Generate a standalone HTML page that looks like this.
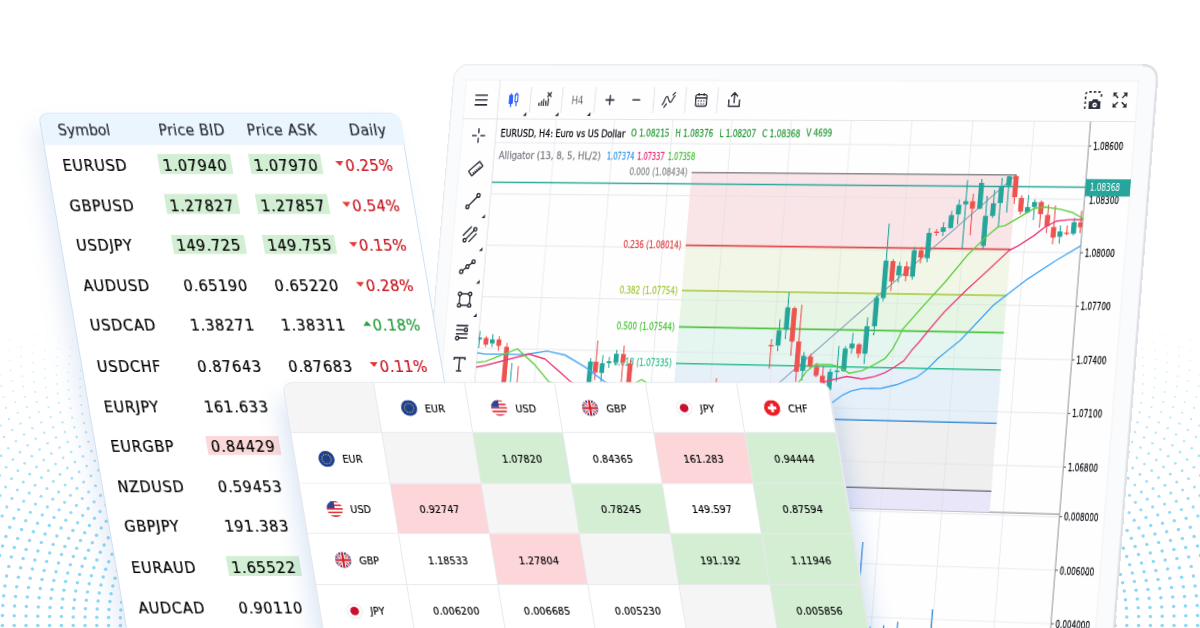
<!DOCTYPE html>
<html><head><meta charset="utf-8"><style>
html,body{margin:0;padding:0}
body{width:1200px;height:628px;overflow:hidden;position:relative;background:#ffffff;font-family:"DejaVu Sans","Liberation Sans",sans-serif}
#chart{position:absolute;left:0;top:0;width:800px;height:660px;transform-origin:0 0;transform:matrix3d(0.815140779,-0.00324956915,0,-5.70492055e-05,-0.0856120913,0.953439311,0,-9.45612213e-06,0,0,1,0,454.377963,63.832888,0,1)}
#tbl{position:absolute;left:38.4px;top:113px;width:360.6px;height:560px;transform-origin:0 0;transform:skewX(9.7deg);background:#fff;border:1px solid #cfe1f2;border-radius:9px 9px 0 0;box-sizing:border-box;box-shadow:-10px 12px 22px -2px rgba(80,130,200,0.15)}
#tbl .th{position:absolute;top:6.5px;font-size:15.6px;font-stretch:condensed;color:#23272e;white-space:nowrap;letter-spacing:0.35px;-webkit-text-stroke:0.15px #23272e}
#tbl .td{position:absolute;font-size:16px;font-stretch:condensed;color:#000;white-space:nowrap;line-height:18px;letter-spacing:0.7px;-webkit-text-stroke:0.2px #000}
#tbl .bx{position:absolute;width:72.3px;height:19.5px}
#mtx{position:absolute;left:283.1px;top:382.5px;width:545px;height:320px;transform-origin:0 0;transform:skewX(9.369deg);background:#fff;border-radius:9px 9px 0 0;overflow:hidden;box-shadow:-12px 14px 22px -4px rgba(70,125,205,0.19), 12px 14px 20px -4px rgba(70,125,205,0.18);outline:1px solid #e6e7ea}
#mtx .mc{position:absolute;box-sizing:border-box;border-right:1px solid #e8e9ec;border-bottom:1px solid #e8e9ec;display:flex;align-items:center;justify-content:center;font-size:10.6px;font-stretch:condensed;color:#000;-webkit-text-stroke:0.15px #000;letter-spacing:0.1px;padding-top:1.5px}
#mtx .fl{display:inline-block;width:16px;height:16px;margin-right:8px}
#mtx .fl svg{display:block}
</style></head><body>
<svg width="1200" height="628" style="position:absolute;left:0;top:0" fill="#8fd9f7"><circle cx="2.4" cy="625.5" r="1.75" fill-opacity="1.00"/><circle cx="14.2" cy="625.5" r="1.75" fill-opacity="1.00"/><circle cx="26.0" cy="625.5" r="1.75" fill-opacity="1.00"/><circle cx="37.8" cy="625.5" r="1.75" fill-opacity="1.00"/><circle cx="49.6" cy="625.5" r="1.75" fill-opacity="1.00"/><circle cx="61.4" cy="625.5" r="1.75" fill-opacity="1.00"/><circle cx="73.2" cy="625.5" r="1.75" fill-opacity="1.00"/><circle cx="85.0" cy="625.5" r="1.75" fill-opacity="1.00"/><circle cx="96.8" cy="625.5" r="1.75" fill-opacity="1.00"/><circle cx="108.6" cy="625.5" r="1.75" fill-opacity="1.00"/><circle cx="120.4" cy="625.5" r="1.75" fill-opacity="1.00"/><circle cx="2.4" cy="615.5" r="1.75" fill-opacity="1.00"/><circle cx="14.2" cy="615.8" r="1.75" fill-opacity="1.00"/><circle cx="26.0" cy="616.0" r="1.75" fill-opacity="1.00"/><circle cx="37.8" cy="616.2" r="1.75" fill-opacity="1.00"/><circle cx="49.6" cy="616.4" r="1.75" fill-opacity="1.00"/><circle cx="61.4" cy="616.6" r="1.75" fill-opacity="1.00"/><circle cx="73.2" cy="616.9" r="1.75" fill-opacity="1.00"/><circle cx="85.0" cy="617.1" r="1.75" fill-opacity="1.00"/><circle cx="96.8" cy="617.3" r="1.75" fill-opacity="1.00"/><circle cx="108.6" cy="617.5" r="1.75" fill-opacity="1.00"/><circle cx="120.4" cy="617.7" r="1.75" fill-opacity="1.00"/><circle cx="2.8" cy="605.6" r="1.75" fill-opacity="1.00"/><circle cx="14.6" cy="606.0" r="1.75" fill-opacity="1.00"/><circle cx="26.4" cy="606.5" r="1.75" fill-opacity="1.00"/><circle cx="38.2" cy="606.9" r="1.75" fill-opacity="1.00"/><circle cx="50.0" cy="607.4" r="1.75" fill-opacity="1.00"/><circle cx="61.8" cy="607.8" r="1.75" fill-opacity="1.00"/><circle cx="73.6" cy="608.2" r="1.75" fill-opacity="1.00"/><circle cx="85.4" cy="608.7" r="1.75" fill-opacity="1.00"/><circle cx="97.2" cy="609.1" r="1.75" fill-opacity="1.00"/><circle cx="109.0" cy="609.6" r="1.75" fill-opacity="1.00"/><circle cx="120.8" cy="610.0" r="1.75" fill-opacity="1.00"/><circle cx="3.7" cy="595.7" r="1.75" fill-opacity="1.00"/><circle cx="15.5" cy="596.4" r="1.75" fill-opacity="1.00"/><circle cx="27.3" cy="597.0" r="1.75" fill-opacity="1.00"/><circle cx="39.1" cy="597.7" r="1.75" fill-opacity="1.00"/><circle cx="50.9" cy="598.3" r="1.75" fill-opacity="1.00"/><circle cx="62.7" cy="599.0" r="1.75" fill-opacity="1.00"/><circle cx="74.5" cy="599.7" r="1.75" fill-opacity="1.00"/><circle cx="86.3" cy="600.3" r="1.75" fill-opacity="1.00"/><circle cx="98.1" cy="601.0" r="1.75" fill-opacity="1.00"/><circle cx="109.9" cy="601.6" r="1.75" fill-opacity="1.00"/><circle cx="121.7" cy="602.3" r="1.75" fill-opacity="1.00"/><circle cx="4.9" cy="585.9" r="1.75" fill-opacity="1.00"/><circle cx="16.7" cy="586.7" r="1.75" fill-opacity="1.00"/><circle cx="28.5" cy="587.6" r="1.75" fill-opacity="1.00"/><circle cx="40.3" cy="588.5" r="1.75" fill-opacity="1.00"/><circle cx="52.1" cy="589.4" r="1.75" fill-opacity="1.00"/><circle cx="63.9" cy="590.3" r="1.75" fill-opacity="1.00"/><circle cx="75.7" cy="591.1" r="1.75" fill-opacity="1.00"/><circle cx="87.5" cy="592.0" r="1.75" fill-opacity="1.00"/><circle cx="99.3" cy="592.9" r="1.75" fill-opacity="1.00"/><circle cx="111.1" cy="593.8" r="1.75" fill-opacity="1.00"/><circle cx="122.9" cy="594.6" r="1.75" fill-opacity="1.00"/><circle cx="6.6" cy="576.1" r="1.75" fill-opacity="1.00"/><circle cx="18.4" cy="577.2" r="1.75" fill-opacity="1.00"/><circle cx="30.2" cy="578.3" r="1.75" fill-opacity="1.00"/><circle cx="42.0" cy="579.4" r="1.75" fill-opacity="1.00"/><circle cx="53.8" cy="580.5" r="1.75" fill-opacity="1.00"/><circle cx="65.6" cy="581.6" r="1.75" fill-opacity="1.00"/><circle cx="77.4" cy="582.7" r="1.75" fill-opacity="1.00"/><circle cx="89.2" cy="583.8" r="1.75" fill-opacity="1.00"/><circle cx="101.0" cy="584.9" r="1.75" fill-opacity="1.00"/><circle cx="112.8" cy="586.0" r="1.75" fill-opacity="1.00"/><circle cx="8.8" cy="566.5" r="1.75" fill-opacity="1.00"/><circle cx="20.6" cy="567.8" r="1.75" fill-opacity="1.00"/><circle cx="32.4" cy="569.1" r="1.75" fill-opacity="1.00"/><circle cx="44.2" cy="570.4" r="1.75" fill-opacity="1.00"/><circle cx="56.0" cy="571.7" r="1.75" fill-opacity="1.00"/><circle cx="67.8" cy="573.1" r="1.75" fill-opacity="1.00"/><circle cx="79.6" cy="574.4" r="1.75" fill-opacity="1.00"/><circle cx="91.4" cy="575.7" r="1.75" fill-opacity="1.00"/><circle cx="103.2" cy="577.0" r="1.75" fill-opacity="1.00"/><circle cx="115.0" cy="578.3" r="1.75" fill-opacity="1.00"/><circle cx="-0.5" cy="555.4" r="1.75" fill-opacity="1.00"/><circle cx="11.3" cy="557.0" r="1.75" fill-opacity="1.00"/><circle cx="23.1" cy="558.5" r="1.75" fill-opacity="1.00"/><circle cx="34.9" cy="560.0" r="1.75" fill-opacity="1.00"/><circle cx="46.7" cy="561.6" r="1.75" fill-opacity="1.00"/><circle cx="58.5" cy="563.1" r="1.75" fill-opacity="1.00"/><circle cx="70.3" cy="564.7" r="1.75" fill-opacity="1.00"/><circle cx="82.1" cy="566.2" r="1.75" fill-opacity="1.00"/><circle cx="93.9" cy="567.7" r="1.75" fill-opacity="1.00"/><circle cx="105.7" cy="569.3" r="1.75" fill-opacity="1.00"/><circle cx="117.5" cy="570.8" r="1.75" fill-opacity="1.00"/><circle cx="2.5" cy="545.9" r="1.75" fill-opacity="1.00"/><circle cx="14.3" cy="547.6" r="1.75" fill-opacity="1.00"/><circle cx="26.1" cy="549.4" r="1.75" fill-opacity="1.00"/><circle cx="37.9" cy="551.1" r="1.75" fill-opacity="1.00"/><circle cx="49.7" cy="552.9" r="1.75" fill-opacity="1.00"/><circle cx="61.5" cy="554.6" r="1.75" fill-opacity="1.00"/><circle cx="73.3" cy="556.4" r="1.75" fill-opacity="1.00"/><circle cx="85.1" cy="558.2" r="1.75" fill-opacity="1.00"/><circle cx="96.9" cy="559.9" r="1.75" fill-opacity="1.00"/><circle cx="108.7" cy="561.7" r="1.75" fill-opacity="1.00"/><circle cx="5.9" cy="536.5" r="1.75" fill-opacity="1.00"/><circle cx="17.7" cy="538.5" r="1.75" fill-opacity="1.00"/><circle cx="29.5" cy="540.4" r="1.75" fill-opacity="1.00"/><circle cx="41.3" cy="542.4" r="1.75" fill-opacity="1.00"/><circle cx="53.1" cy="544.4" r="1.75" fill-opacity="1.00"/><circle cx="64.9" cy="546.4" r="1.75" fill-opacity="1.00"/><circle cx="76.7" cy="548.3" r="1.75" fill-opacity="1.00"/><circle cx="88.5" cy="550.3" r="1.75" fill-opacity="1.00"/><circle cx="100.3" cy="552.3" r="1.75" fill-opacity="1.00"/><circle cx="112.1" cy="554.3" r="1.75" fill-opacity="1.00"/><circle cx="9.7" cy="527.3" r="1.74" fill-opacity="0.99"/><circle cx="21.5" cy="529.5" r="1.75" fill-opacity="1.00"/><circle cx="33.3" cy="531.7" r="1.75" fill-opacity="1.00"/><circle cx="45.1" cy="533.9" r="1.75" fill-opacity="1.00"/><circle cx="56.9" cy="536.1" r="1.75" fill-opacity="1.00"/><circle cx="68.7" cy="538.3" r="1.75" fill-opacity="1.00"/><circle cx="80.5" cy="540.5" r="1.75" fill-opacity="1.00"/><circle cx="92.3" cy="542.7" r="1.75" fill-opacity="1.00"/><circle cx="104.1" cy="544.9" r="1.75" fill-opacity="1.00"/><circle cx="115.9" cy="547.1" r="1.75" fill-opacity="1.00"/><circle cx="2.1" cy="515.9" r="1.68" fill-opacity="0.94"/><circle cx="13.9" cy="518.3" r="1.69" fill-opacity="0.95"/><circle cx="25.7" cy="520.8" r="1.70" fill-opacity="0.96"/><circle cx="37.5" cy="523.2" r="1.71" fill-opacity="0.97"/><circle cx="49.3" cy="525.6" r="1.73" fill-opacity="0.98"/><circle cx="61.1" cy="528.0" r="1.74" fill-opacity="0.99"/><circle cx="72.9" cy="530.4" r="1.75" fill-opacity="1.00"/><circle cx="84.7" cy="532.8" r="1.75" fill-opacity="1.00"/><circle cx="96.5" cy="535.2" r="1.75" fill-opacity="1.00"/><circle cx="108.3" cy="537.7" r="1.75" fill-opacity="1.00"/><circle cx="6.8" cy="507.0" r="1.63" fill-opacity="0.91"/><circle cx="18.6" cy="509.6" r="1.64" fill-opacity="0.92"/><circle cx="30.4" cy="512.3" r="1.66" fill-opacity="0.93"/><circle cx="42.2" cy="514.9" r="1.67" fill-opacity="0.94"/><circle cx="54.0" cy="517.5" r="1.68" fill-opacity="0.95"/><circle cx="65.8" cy="520.2" r="1.70" fill-opacity="0.96"/><circle cx="77.6" cy="522.8" r="1.71" fill-opacity="0.97"/><circle cx="89.4" cy="525.5" r="1.73" fill-opacity="0.98"/><circle cx="101.2" cy="528.1" r="1.74" fill-opacity="0.99"/><circle cx="113.0" cy="530.7" r="1.75" fill-opacity="1.00"/><circle cx="0.1" cy="495.5" r="1.57" fill-opacity="0.86"/><circle cx="11.9" cy="498.4" r="1.58" fill-opacity="0.87"/><circle cx="23.7" cy="501.2" r="1.60" fill-opacity="0.88"/><circle cx="35.5" cy="504.1" r="1.61" fill-opacity="0.90"/><circle cx="47.3" cy="506.9" r="1.63" fill-opacity="0.91"/><circle cx="59.1" cy="509.8" r="1.64" fill-opacity="0.92"/><circle cx="70.9" cy="512.6" r="1.66" fill-opacity="0.93"/><circle cx="82.7" cy="515.5" r="1.67" fill-opacity="0.94"/><circle cx="94.5" cy="518.3" r="1.69" fill-opacity="0.95"/><circle cx="106.3" cy="521.2" r="1.70" fill-opacity="0.96"/><circle cx="5.6" cy="487.0" r="1.52" fill-opacity="0.83"/><circle cx="17.4" cy="490.0" r="1.54" fill-opacity="0.84"/><circle cx="29.2" cy="493.1" r="1.56" fill-opacity="0.85"/><circle cx="41.0" cy="496.2" r="1.57" fill-opacity="0.86"/><circle cx="52.8" cy="499.2" r="1.59" fill-opacity="0.88"/><circle cx="64.6" cy="502.3" r="1.60" fill-opacity="0.89"/><circle cx="76.4" cy="505.4" r="1.62" fill-opacity="0.90"/><circle cx="88.2" cy="508.5" r="1.64" fill-opacity="0.91"/><circle cx="100.0" cy="511.5" r="1.65" fill-opacity="0.93"/><circle cx="-0.3" cy="475.4" r="1.46" fill-opacity="0.78"/><circle cx="11.5" cy="478.7" r="1.48" fill-opacity="0.79"/><circle cx="23.3" cy="482.0" r="1.50" fill-opacity="0.81"/><circle cx="35.1" cy="485.3" r="1.52" fill-opacity="0.82"/><circle cx="46.9" cy="488.6" r="1.53" fill-opacity="0.83"/><circle cx="58.7" cy="491.9" r="1.55" fill-opacity="0.85"/><circle cx="70.5" cy="495.2" r="1.57" fill-opacity="0.86"/><circle cx="82.3" cy="498.5" r="1.58" fill-opacity="0.87"/><circle cx="94.1" cy="501.8" r="1.60" fill-opacity="0.89"/><circle cx="105.9" cy="505.1" r="1.62" fill-opacity="0.90"/><circle cx="6.1" cy="467.3" r="1.42" fill-opacity="0.75"/><circle cx="17.9" cy="470.8" r="1.44" fill-opacity="0.76"/><circle cx="29.7" cy="474.3" r="1.46" fill-opacity="0.78"/><circle cx="41.5" cy="477.8" r="1.48" fill-opacity="0.79"/><circle cx="53.3" cy="481.4" r="1.49" fill-opacity="0.81"/><circle cx="65.1" cy="484.9" r="1.51" fill-opacity="0.82"/><circle cx="76.9" cy="488.4" r="1.53" fill-opacity="0.83"/><circle cx="88.7" cy="491.9" r="1.55" fill-opacity="0.85"/><circle cx="100.5" cy="495.4" r="1.57" fill-opacity="0.86"/><circle cx="1.1" cy="455.8" r="1.36" fill-opacity="0.70"/><circle cx="12.9" cy="459.6" r="1.38" fill-opacity="0.72"/><circle cx="24.7" cy="463.3" r="1.40" fill-opacity="0.73"/><circle cx="36.5" cy="467.0" r="1.42" fill-opacity="0.75"/><circle cx="48.3" cy="470.8" r="1.44" fill-opacity="0.76"/><circle cx="60.1" cy="474.5" r="1.46" fill-opacity="0.78"/><circle cx="71.9" cy="478.2" r="1.48" fill-opacity="0.79"/><circle cx="83.7" cy="482.0" r="1.50" fill-opacity="0.81"/><circle cx="95.5" cy="485.7" r="1.52" fill-opacity="0.82"/><circle cx="8.3" cy="448.3" r="1.32" fill-opacity="0.67"/><circle cx="20.1" cy="452.2" r="1.34" fill-opacity="0.69"/><circle cx="31.9" cy="456.2" r="1.36" fill-opacity="0.70"/><circle cx="43.7" cy="460.1" r="1.38" fill-opacity="0.72"/><circle cx="55.5" cy="464.1" r="1.40" fill-opacity="0.74"/><circle cx="67.3" cy="468.0" r="1.42" fill-opacity="0.75"/><circle cx="79.1" cy="472.0" r="1.45" fill-opacity="0.77"/><circle cx="90.9" cy="475.9" r="1.47" fill-opacity="0.78"/><circle cx="102.7" cy="479.9" r="1.49" fill-opacity="0.80"/><circle cx="4.1" cy="437.0" r="1.26" fill-opacity="0.63"/><circle cx="15.9" cy="441.1" r="1.28" fill-opacity="0.64"/><circle cx="27.7" cy="445.3" r="1.31" fill-opacity="0.66"/><circle cx="39.5" cy="449.5" r="1.33" fill-opacity="0.68"/><circle cx="51.3" cy="453.6" r="1.35" fill-opacity="0.69"/><circle cx="63.1" cy="457.8" r="1.37" fill-opacity="0.71"/><circle cx="74.9" cy="462.0" r="1.39" fill-opacity="0.73"/><circle cx="86.7" cy="466.1" r="1.41" fill-opacity="0.74"/><circle cx="98.5" cy="470.3" r="1.44" fill-opacity="0.76"/><circle cx="0.4" cy="425.6" r="1.20" fill-opacity="0.58"/><circle cx="12.2" cy="430.0" r="1.23" fill-opacity="0.60"/><circle cx="24.0" cy="434.4" r="1.25" fill-opacity="0.62"/><circle cx="35.8" cy="438.8" r="1.27" fill-opacity="0.64"/><circle cx="47.6" cy="443.2" r="1.29" fill-opacity="0.65"/><circle cx="59.4" cy="447.6" r="1.32" fill-opacity="0.67"/><circle cx="71.2" cy="452.0" r="1.34" fill-opacity="0.69"/><circle cx="83.0" cy="456.4" r="1.36" fill-opacity="0.71"/><circle cx="94.8" cy="460.8" r="1.39" fill-opacity="0.72"/><circle cx="8.8" cy="419.0" r="1.17" fill-opacity="0.56"/><circle cx="20.6" cy="423.6" r="1.19" fill-opacity="0.57"/><circle cx="32.4" cy="428.2" r="1.22" fill-opacity="0.59"/><circle cx="44.2" cy="432.8" r="1.24" fill-opacity="0.61"/><circle cx="56.0" cy="437.4" r="1.26" fill-opacity="0.63"/><circle cx="67.8" cy="442.0" r="1.29" fill-opacity="0.65"/><circle cx="79.6" cy="446.6" r="1.31" fill-opacity="0.67"/><circle cx="91.4" cy="451.2" r="1.34" fill-opacity="0.68"/><circle cx="5.9" cy="407.9" r="1.11" fill-opacity="0.51"/><circle cx="17.7" cy="412.8" r="1.13" fill-opacity="0.53"/><circle cx="29.5" cy="417.6" r="1.16" fill-opacity="0.55"/><circle cx="41.3" cy="422.4" r="1.19" fill-opacity="0.57"/><circle cx="53.1" cy="427.2" r="1.21" fill-opacity="0.59"/><circle cx="64.9" cy="432.1" r="1.24" fill-opacity="0.61"/><circle cx="76.7" cy="436.9" r="1.26" fill-opacity="0.63"/><circle cx="88.5" cy="441.7" r="1.29" fill-opacity="0.65"/><circle cx="3.5" cy="397.0" r="1.05" fill-opacity="0.47"/><circle cx="15.3" cy="402.0" r="1.08" fill-opacity="0.49"/><circle cx="27.1" cy="407.1" r="1.10" fill-opacity="0.51"/><circle cx="38.9" cy="412.1" r="1.13" fill-opacity="0.53"/><circle cx="50.7" cy="417.2" r="1.16" fill-opacity="0.55"/><circle cx="62.5" cy="422.2" r="1.18" fill-opacity="0.57"/><circle cx="74.3" cy="427.3" r="1.21" fill-opacity="0.59"/><circle cx="86.1" cy="432.3" r="1.24" fill-opacity="0.61"/><circle cx="1.4" cy="386.1" r="0.99" fill-opacity="0.42"/><circle cx="13.2" cy="391.4" r="1.02" fill-opacity="0.45"/><circle cx="25.0" cy="396.7" r="1.05" fill-opacity="0.47"/><circle cx="36.8" cy="401.9" r="1.08" fill-opacity="0.49"/><circle cx="48.6" cy="407.2" r="1.11" fill-opacity="0.51"/><circle cx="60.4" cy="412.5" r="1.13" fill-opacity="0.53"/><circle cx="72.2" cy="417.7" r="1.16" fill-opacity="0.55"/><circle cx="84.0" cy="423.0" r="1.19" fill-opacity="0.57"/><circle cx="95.8" cy="428.3" r="1.22" fill-opacity="0.59"/><circle cx="-0.2" cy="375.4" r="0.94" fill-opacity="0.38"/><circle cx="11.6" cy="380.9" r="0.97" fill-opacity="0.40"/><circle cx="23.4" cy="386.4" r="1.00" fill-opacity="0.43"/><circle cx="35.2" cy="391.9" r="1.02" fill-opacity="0.45"/><circle cx="47.0" cy="397.4" r="1.05" fill-opacity="0.47"/><circle cx="58.8" cy="402.8" r="1.08" fill-opacity="0.49"/><circle cx="70.6" cy="408.3" r="1.11" fill-opacity="0.51"/><circle cx="82.4" cy="413.8" r="1.14" fill-opacity="0.54"/><circle cx="94.2" cy="419.3" r="1.17" fill-opacity="0.56"/><circle cx="10.4" cy="370.5" r="0.91" fill-opacity="0.36"/><circle cx="22.2" cy="376.2" r="0.94" fill-opacity="0.38"/><circle cx="34.0" cy="381.9" r="0.97" fill-opacity="0.41"/><circle cx="45.8" cy="387.6" r="1.00" fill-opacity="0.43"/><circle cx="57.6" cy="393.4" r="1.03" fill-opacity="0.45"/><circle cx="69.4" cy="399.1" r="1.06" fill-opacity="0.48"/><circle cx="81.2" cy="404.8" r="1.09" fill-opacity="0.50"/><circle cx="9.6" cy="360.3" r="0.86" fill-opacity="0.32"/><circle cx="21.4" cy="366.3" r="0.89" fill-opacity="0.35"/><circle cx="33.2" cy="372.2" r="0.92" fill-opacity="0.37"/><circle cx="45.0" cy="378.1" r="0.95" fill-opacity="0.39"/><circle cx="56.8" cy="384.0" r="0.98" fill-opacity="0.42"/><circle cx="68.6" cy="390.0" r="1.01" fill-opacity="0.44"/><circle cx="80.4" cy="395.9" r="1.05" fill-opacity="0.46"/><circle cx="9.3" cy="350.3" r="0.81" fill-opacity="0.28"/><circle cx="21.1" cy="356.5" r="0.84" fill-opacity="0.31"/><circle cx="32.9" cy="362.6" r="0.87" fill-opacity="0.33"/><circle cx="44.7" cy="368.8" r="0.90" fill-opacity="0.36"/><circle cx="56.5" cy="374.9" r="0.94" fill-opacity="0.38"/><circle cx="68.3" cy="381.1" r="0.97" fill-opacity="0.40"/><circle cx="80.1" cy="387.2" r="1.00" fill-opacity="0.43"/><circle cx="9.3" cy="340.5" r="0.76" fill-opacity="0.24"/><circle cx="21.1" cy="346.9" r="0.79" fill-opacity="0.27"/><circle cx="32.9" cy="353.3" r="0.82" fill-opacity="0.29"/><circle cx="44.7" cy="359.6" r="0.86" fill-opacity="0.32"/><circle cx="56.5" cy="366.0" r="0.89" fill-opacity="0.34"/><circle cx="68.3" cy="372.4" r="0.92" fill-opacity="0.37"/><circle cx="80.1" cy="378.7" r="0.96" fill-opacity="0.39"/><circle cx="9.8" cy="331.0" r="0.71" fill-opacity="0.20"/><circle cx="21.6" cy="337.6" r="0.74" fill-opacity="0.23"/><circle cx="33.4" cy="344.2" r="0.77" fill-opacity="0.26"/><circle cx="45.2" cy="350.7" r="0.81" fill-opacity="0.28"/><circle cx="57.0" cy="357.3" r="0.84" fill-opacity="0.31"/><circle cx="68.8" cy="363.9" r="0.88" fill-opacity="0.34"/><circle cx="80.6" cy="370.5" r="0.91" fill-opacity="0.36"/><circle cx="34.4" cy="335.3" r="0.73" fill-opacity="0.22"/><circle cx="46.2" cy="342.1" r="0.76" fill-opacity="0.25"/><circle cx="58.0" cy="348.9" r="0.80" fill-opacity="0.28"/><circle cx="69.8" cy="355.7" r="0.84" fill-opacity="0.30"/><circle cx="81.6" cy="362.5" r="0.87" fill-opacity="0.33"/><circle cx="47.5" cy="333.8" r="0.72" fill-opacity="0.22"/><circle cx="59.3" cy="340.8" r="0.76" fill-opacity="0.24"/><circle cx="71.1" cy="347.8" r="0.79" fill-opacity="0.27"/><circle cx="82.9" cy="354.8" r="0.83" fill-opacity="0.30"/><circle cx="61.1" cy="333.0" r="0.72" fill-opacity="0.21"/><circle cx="72.9" cy="340.2" r="0.75" fill-opacity="0.24"/><circle cx="1197.6" cy="625.5" r="1.75" fill-opacity="1.00"/><circle cx="1185.8" cy="625.5" r="1.75" fill-opacity="1.00"/><circle cx="1174.0" cy="625.5" r="1.75" fill-opacity="1.00"/><circle cx="1162.2" cy="625.5" r="1.75" fill-opacity="1.00"/><circle cx="1150.4" cy="625.5" r="1.75" fill-opacity="1.00"/><circle cx="1138.6" cy="625.5" r="1.75" fill-opacity="1.00"/><circle cx="1126.8" cy="625.5" r="1.75" fill-opacity="1.00"/><circle cx="1115.0" cy="625.5" r="1.75" fill-opacity="1.00"/><circle cx="1103.2" cy="625.5" r="1.75" fill-opacity="1.00"/><circle cx="1197.6" cy="615.5" r="1.75" fill-opacity="1.00"/><circle cx="1185.8" cy="615.8" r="1.75" fill-opacity="1.00"/><circle cx="1174.0" cy="616.0" r="1.75" fill-opacity="1.00"/><circle cx="1162.2" cy="616.2" r="1.75" fill-opacity="1.00"/><circle cx="1150.4" cy="616.4" r="1.75" fill-opacity="1.00"/><circle cx="1138.6" cy="616.6" r="1.75" fill-opacity="1.00"/><circle cx="1126.8" cy="616.9" r="1.75" fill-opacity="1.00"/><circle cx="1115.0" cy="617.1" r="1.75" fill-opacity="1.00"/><circle cx="1103.2" cy="617.3" r="1.75" fill-opacity="1.00"/><circle cx="1197.2" cy="605.6" r="1.75" fill-opacity="1.00"/><circle cx="1185.4" cy="606.0" r="1.75" fill-opacity="1.00"/><circle cx="1173.6" cy="606.5" r="1.75" fill-opacity="1.00"/><circle cx="1161.8" cy="606.9" r="1.75" fill-opacity="1.00"/><circle cx="1150.0" cy="607.4" r="1.75" fill-opacity="1.00"/><circle cx="1138.2" cy="607.8" r="1.75" fill-opacity="1.00"/><circle cx="1126.4" cy="608.2" r="1.75" fill-opacity="1.00"/><circle cx="1114.6" cy="608.7" r="1.75" fill-opacity="1.00"/><circle cx="1102.8" cy="609.1" r="1.75" fill-opacity="1.00"/><circle cx="1196.3" cy="595.7" r="1.75" fill-opacity="1.00"/><circle cx="1184.5" cy="596.4" r="1.75" fill-opacity="1.00"/><circle cx="1172.7" cy="597.0" r="1.75" fill-opacity="1.00"/><circle cx="1160.9" cy="597.7" r="1.75" fill-opacity="1.00"/><circle cx="1149.1" cy="598.3" r="1.75" fill-opacity="1.00"/><circle cx="1137.3" cy="599.0" r="1.75" fill-opacity="1.00"/><circle cx="1125.5" cy="599.7" r="1.75" fill-opacity="1.00"/><circle cx="1113.7" cy="600.3" r="1.75" fill-opacity="1.00"/><circle cx="1101.9" cy="601.0" r="1.75" fill-opacity="1.00"/><circle cx="1195.1" cy="585.9" r="1.75" fill-opacity="1.00"/><circle cx="1183.3" cy="586.7" r="1.75" fill-opacity="1.00"/><circle cx="1171.5" cy="587.6" r="1.75" fill-opacity="1.00"/><circle cx="1159.7" cy="588.5" r="1.75" fill-opacity="1.00"/><circle cx="1147.9" cy="589.4" r="1.75" fill-opacity="1.00"/><circle cx="1136.1" cy="590.3" r="1.75" fill-opacity="1.00"/><circle cx="1124.3" cy="591.1" r="1.75" fill-opacity="1.00"/><circle cx="1112.5" cy="592.0" r="1.75" fill-opacity="1.00"/><circle cx="1100.7" cy="592.9" r="1.75" fill-opacity="1.00"/><circle cx="1193.4" cy="576.1" r="1.75" fill-opacity="1.00"/><circle cx="1181.6" cy="577.2" r="1.75" fill-opacity="1.00"/><circle cx="1169.8" cy="578.3" r="1.75" fill-opacity="1.00"/><circle cx="1158.0" cy="579.4" r="1.75" fill-opacity="1.00"/><circle cx="1146.2" cy="580.5" r="1.75" fill-opacity="1.00"/><circle cx="1134.4" cy="581.6" r="1.75" fill-opacity="1.00"/><circle cx="1122.6" cy="582.7" r="1.75" fill-opacity="1.00"/><circle cx="1110.8" cy="583.8" r="1.75" fill-opacity="1.00"/><circle cx="1191.2" cy="566.5" r="1.75" fill-opacity="1.00"/><circle cx="1179.4" cy="567.8" r="1.75" fill-opacity="1.00"/><circle cx="1167.6" cy="569.1" r="1.75" fill-opacity="1.00"/><circle cx="1155.8" cy="570.4" r="1.75" fill-opacity="1.00"/><circle cx="1144.0" cy="571.7" r="1.75" fill-opacity="1.00"/><circle cx="1132.2" cy="573.1" r="1.75" fill-opacity="1.00"/><circle cx="1120.4" cy="574.4" r="1.75" fill-opacity="1.00"/><circle cx="1108.6" cy="575.7" r="1.75" fill-opacity="1.00"/><circle cx="1200.5" cy="555.4" r="1.75" fill-opacity="1.00"/><circle cx="1188.7" cy="557.0" r="1.75" fill-opacity="1.00"/><circle cx="1176.9" cy="558.5" r="1.75" fill-opacity="1.00"/><circle cx="1165.1" cy="560.0" r="1.75" fill-opacity="1.00"/><circle cx="1153.3" cy="561.6" r="1.75" fill-opacity="1.00"/><circle cx="1141.5" cy="563.1" r="1.75" fill-opacity="1.00"/><circle cx="1129.7" cy="564.7" r="1.75" fill-opacity="1.00"/><circle cx="1117.9" cy="566.2" r="1.75" fill-opacity="1.00"/><circle cx="1106.1" cy="567.7" r="1.75" fill-opacity="1.00"/><circle cx="1197.5" cy="545.9" r="1.75" fill-opacity="1.00"/><circle cx="1185.7" cy="547.6" r="1.75" fill-opacity="1.00"/><circle cx="1173.9" cy="549.4" r="1.75" fill-opacity="1.00"/><circle cx="1162.1" cy="551.1" r="1.75" fill-opacity="1.00"/><circle cx="1150.3" cy="552.9" r="1.75" fill-opacity="1.00"/><circle cx="1138.5" cy="554.6" r="1.75" fill-opacity="1.00"/><circle cx="1126.7" cy="556.4" r="1.75" fill-opacity="1.00"/><circle cx="1114.9" cy="558.2" r="1.75" fill-opacity="1.00"/><circle cx="1103.1" cy="559.9" r="1.75" fill-opacity="1.00"/><circle cx="1194.1" cy="536.5" r="1.75" fill-opacity="1.00"/><circle cx="1182.3" cy="538.5" r="1.75" fill-opacity="1.00"/><circle cx="1170.5" cy="540.4" r="1.75" fill-opacity="1.00"/><circle cx="1158.7" cy="542.4" r="1.75" fill-opacity="1.00"/><circle cx="1146.9" cy="544.4" r="1.75" fill-opacity="1.00"/><circle cx="1135.1" cy="546.4" r="1.75" fill-opacity="1.00"/><circle cx="1123.3" cy="548.3" r="1.75" fill-opacity="1.00"/><circle cx="1111.5" cy="550.3" r="1.75" fill-opacity="1.00"/><circle cx="1190.3" cy="527.3" r="1.74" fill-opacity="0.99"/><circle cx="1178.5" cy="529.5" r="1.75" fill-opacity="1.00"/><circle cx="1166.7" cy="531.7" r="1.75" fill-opacity="1.00"/><circle cx="1154.9" cy="533.9" r="1.75" fill-opacity="1.00"/><circle cx="1143.1" cy="536.1" r="1.75" fill-opacity="1.00"/><circle cx="1131.3" cy="538.3" r="1.75" fill-opacity="1.00"/><circle cx="1119.5" cy="540.5" r="1.75" fill-opacity="1.00"/><circle cx="1107.7" cy="542.7" r="1.75" fill-opacity="1.00"/><circle cx="1197.9" cy="515.9" r="1.68" fill-opacity="0.94"/><circle cx="1186.1" cy="518.3" r="1.69" fill-opacity="0.95"/><circle cx="1174.3" cy="520.8" r="1.70" fill-opacity="0.96"/><circle cx="1162.5" cy="523.2" r="1.71" fill-opacity="0.97"/><circle cx="1150.7" cy="525.6" r="1.73" fill-opacity="0.98"/><circle cx="1138.9" cy="528.0" r="1.74" fill-opacity="0.99"/><circle cx="1127.1" cy="530.4" r="1.75" fill-opacity="1.00"/><circle cx="1115.3" cy="532.8" r="1.75" fill-opacity="1.00"/><circle cx="1103.5" cy="535.2" r="1.75" fill-opacity="1.00"/><circle cx="1193.2" cy="507.0" r="1.63" fill-opacity="0.91"/><circle cx="1181.4" cy="509.6" r="1.64" fill-opacity="0.92"/><circle cx="1169.6" cy="512.3" r="1.66" fill-opacity="0.93"/><circle cx="1157.8" cy="514.9" r="1.67" fill-opacity="0.94"/><circle cx="1146.0" cy="517.5" r="1.68" fill-opacity="0.95"/><circle cx="1134.2" cy="520.2" r="1.70" fill-opacity="0.96"/><circle cx="1122.4" cy="522.8" r="1.71" fill-opacity="0.97"/><circle cx="1110.6" cy="525.5" r="1.73" fill-opacity="0.98"/><circle cx="1199.9" cy="495.5" r="1.57" fill-opacity="0.86"/><circle cx="1188.1" cy="498.4" r="1.58" fill-opacity="0.87"/><circle cx="1176.3" cy="501.2" r="1.60" fill-opacity="0.88"/><circle cx="1164.5" cy="504.1" r="1.61" fill-opacity="0.90"/><circle cx="1152.7" cy="506.9" r="1.63" fill-opacity="0.91"/><circle cx="1140.9" cy="509.8" r="1.64" fill-opacity="0.92"/><circle cx="1129.1" cy="512.6" r="1.66" fill-opacity="0.93"/><circle cx="1117.3" cy="515.5" r="1.67" fill-opacity="0.94"/><circle cx="1105.5" cy="518.3" r="1.69" fill-opacity="0.95"/><circle cx="1194.4" cy="487.0" r="1.52" fill-opacity="0.83"/><circle cx="1182.6" cy="490.0" r="1.54" fill-opacity="0.84"/><circle cx="1170.8" cy="493.1" r="1.56" fill-opacity="0.85"/><circle cx="1159.0" cy="496.2" r="1.57" fill-opacity="0.86"/><circle cx="1147.2" cy="499.2" r="1.59" fill-opacity="0.88"/><circle cx="1135.4" cy="502.3" r="1.60" fill-opacity="0.89"/><circle cx="1123.6" cy="505.4" r="1.62" fill-opacity="0.90"/><circle cx="1111.8" cy="508.5" r="1.64" fill-opacity="0.91"/><circle cx="1100.0" cy="511.5" r="1.65" fill-opacity="0.93"/><circle cx="1200.3" cy="475.4" r="1.46" fill-opacity="0.78"/><circle cx="1188.5" cy="478.7" r="1.48" fill-opacity="0.79"/><circle cx="1176.7" cy="482.0" r="1.50" fill-opacity="0.81"/><circle cx="1164.9" cy="485.3" r="1.52" fill-opacity="0.82"/><circle cx="1153.1" cy="488.6" r="1.53" fill-opacity="0.83"/><circle cx="1141.3" cy="491.9" r="1.55" fill-opacity="0.85"/><circle cx="1129.5" cy="495.2" r="1.57" fill-opacity="0.86"/><circle cx="1117.7" cy="498.5" r="1.58" fill-opacity="0.87"/><circle cx="1105.9" cy="501.8" r="1.60" fill-opacity="0.89"/><circle cx="1193.9" cy="467.3" r="1.42" fill-opacity="0.75"/><circle cx="1182.1" cy="470.8" r="1.44" fill-opacity="0.76"/><circle cx="1170.3" cy="474.3" r="1.46" fill-opacity="0.78"/><circle cx="1158.5" cy="477.8" r="1.48" fill-opacity="0.79"/><circle cx="1146.7" cy="481.4" r="1.49" fill-opacity="0.81"/><circle cx="1134.9" cy="484.9" r="1.51" fill-opacity="0.82"/><circle cx="1123.1" cy="488.4" r="1.53" fill-opacity="0.83"/><circle cx="1111.3" cy="491.9" r="1.55" fill-opacity="0.85"/><circle cx="1198.9" cy="455.8" r="1.36" fill-opacity="0.70"/><circle cx="1187.1" cy="459.6" r="1.38" fill-opacity="0.72"/><circle cx="1175.3" cy="463.3" r="1.40" fill-opacity="0.73"/><circle cx="1163.5" cy="467.0" r="1.42" fill-opacity="0.75"/><circle cx="1151.7" cy="470.8" r="1.44" fill-opacity="0.76"/><circle cx="1139.9" cy="474.5" r="1.46" fill-opacity="0.78"/><circle cx="1128.1" cy="478.2" r="1.48" fill-opacity="0.79"/><circle cx="1116.3" cy="482.0" r="1.50" fill-opacity="0.81"/><circle cx="1104.5" cy="485.7" r="1.52" fill-opacity="0.82"/><circle cx="1191.7" cy="448.3" r="1.32" fill-opacity="0.67"/><circle cx="1179.9" cy="452.2" r="1.34" fill-opacity="0.69"/><circle cx="1168.1" cy="456.2" r="1.36" fill-opacity="0.70"/><circle cx="1156.3" cy="460.1" r="1.38" fill-opacity="0.72"/><circle cx="1144.5" cy="464.1" r="1.40" fill-opacity="0.74"/><circle cx="1132.7" cy="468.0" r="1.42" fill-opacity="0.75"/><circle cx="1120.9" cy="472.0" r="1.45" fill-opacity="0.77"/><circle cx="1109.1" cy="475.9" r="1.47" fill-opacity="0.78"/><circle cx="1195.9" cy="437.0" r="1.26" fill-opacity="0.63"/><circle cx="1184.1" cy="441.1" r="1.28" fill-opacity="0.64"/><circle cx="1172.3" cy="445.3" r="1.31" fill-opacity="0.66"/><circle cx="1160.5" cy="449.5" r="1.33" fill-opacity="0.68"/><circle cx="1148.7" cy="453.6" r="1.35" fill-opacity="0.69"/><circle cx="1136.9" cy="457.8" r="1.37" fill-opacity="0.71"/><circle cx="1125.1" cy="462.0" r="1.39" fill-opacity="0.73"/><circle cx="1113.3" cy="466.1" r="1.41" fill-opacity="0.74"/><circle cx="1101.5" cy="470.3" r="1.44" fill-opacity="0.76"/><circle cx="1199.6" cy="425.6" r="1.20" fill-opacity="0.58"/><circle cx="1187.8" cy="430.0" r="1.23" fill-opacity="0.60"/><circle cx="1176.0" cy="434.4" r="1.25" fill-opacity="0.62"/><circle cx="1164.2" cy="438.8" r="1.27" fill-opacity="0.64"/><circle cx="1152.4" cy="443.2" r="1.29" fill-opacity="0.65"/><circle cx="1140.6" cy="447.6" r="1.32" fill-opacity="0.67"/><circle cx="1128.8" cy="452.0" r="1.34" fill-opacity="0.69"/><circle cx="1117.0" cy="456.4" r="1.36" fill-opacity="0.71"/><circle cx="1105.2" cy="460.8" r="1.39" fill-opacity="0.72"/><circle cx="1191.2" cy="419.0" r="1.17" fill-opacity="0.56"/><circle cx="1179.4" cy="423.6" r="1.19" fill-opacity="0.57"/><circle cx="1167.6" cy="428.2" r="1.22" fill-opacity="0.59"/><circle cx="1155.8" cy="432.8" r="1.24" fill-opacity="0.61"/><circle cx="1144.0" cy="437.4" r="1.26" fill-opacity="0.63"/><circle cx="1132.2" cy="442.0" r="1.29" fill-opacity="0.65"/><circle cx="1120.4" cy="446.6" r="1.31" fill-opacity="0.67"/><circle cx="1108.6" cy="451.2" r="1.34" fill-opacity="0.68"/><circle cx="1194.1" cy="407.9" r="1.11" fill-opacity="0.51"/><circle cx="1182.3" cy="412.8" r="1.13" fill-opacity="0.53"/><circle cx="1170.5" cy="417.6" r="1.16" fill-opacity="0.55"/><circle cx="1158.7" cy="422.4" r="1.19" fill-opacity="0.57"/><circle cx="1146.9" cy="427.2" r="1.21" fill-opacity="0.59"/><circle cx="1135.1" cy="432.1" r="1.24" fill-opacity="0.61"/><circle cx="1123.3" cy="436.9" r="1.26" fill-opacity="0.63"/><circle cx="1111.5" cy="441.7" r="1.29" fill-opacity="0.65"/><circle cx="1196.5" cy="397.0" r="1.05" fill-opacity="0.47"/><circle cx="1184.7" cy="402.0" r="1.08" fill-opacity="0.49"/><circle cx="1172.9" cy="407.1" r="1.10" fill-opacity="0.51"/><circle cx="1161.1" cy="412.1" r="1.13" fill-opacity="0.53"/><circle cx="1149.3" cy="417.2" r="1.16" fill-opacity="0.55"/><circle cx="1137.5" cy="422.2" r="1.18" fill-opacity="0.57"/><circle cx="1125.7" cy="427.3" r="1.21" fill-opacity="0.59"/><circle cx="1113.9" cy="432.3" r="1.24" fill-opacity="0.61"/><circle cx="1102.1" cy="437.4" r="1.26" fill-opacity="0.63"/><circle cx="1198.6" cy="386.1" r="0.99" fill-opacity="0.42"/><circle cx="1186.8" cy="391.4" r="1.02" fill-opacity="0.45"/><circle cx="1175.0" cy="396.7" r="1.05" fill-opacity="0.47"/><circle cx="1163.2" cy="401.9" r="1.08" fill-opacity="0.49"/><circle cx="1151.4" cy="407.2" r="1.11" fill-opacity="0.51"/><circle cx="1139.6" cy="412.5" r="1.13" fill-opacity="0.53"/><circle cx="1127.8" cy="417.7" r="1.16" fill-opacity="0.55"/><circle cx="1116.0" cy="423.0" r="1.19" fill-opacity="0.57"/><circle cx="1104.2" cy="428.3" r="1.22" fill-opacity="0.59"/><circle cx="1200.2" cy="375.4" r="0.94" fill-opacity="0.38"/><circle cx="1188.4" cy="380.9" r="0.97" fill-opacity="0.40"/><circle cx="1176.6" cy="386.4" r="1.00" fill-opacity="0.43"/><circle cx="1164.8" cy="391.9" r="1.02" fill-opacity="0.45"/><circle cx="1153.0" cy="397.4" r="1.05" fill-opacity="0.47"/><circle cx="1141.2" cy="402.8" r="1.08" fill-opacity="0.49"/><circle cx="1129.4" cy="408.3" r="1.11" fill-opacity="0.51"/><circle cx="1117.6" cy="413.8" r="1.14" fill-opacity="0.54"/><circle cx="1105.8" cy="419.3" r="1.17" fill-opacity="0.56"/><circle cx="1189.6" cy="370.5" r="0.91" fill-opacity="0.36"/><circle cx="1177.8" cy="376.2" r="0.94" fill-opacity="0.38"/><circle cx="1166.0" cy="381.9" r="0.97" fill-opacity="0.41"/><circle cx="1154.2" cy="387.6" r="1.00" fill-opacity="0.43"/><circle cx="1142.4" cy="393.4" r="1.03" fill-opacity="0.45"/><circle cx="1130.6" cy="399.1" r="1.06" fill-opacity="0.48"/><circle cx="1118.8" cy="404.8" r="1.09" fill-opacity="0.50"/><circle cx="1107.0" cy="410.5" r="1.12" fill-opacity="0.52"/><circle cx="1190.4" cy="360.3" r="0.86" fill-opacity="0.32"/><circle cx="1178.6" cy="366.3" r="0.89" fill-opacity="0.35"/><circle cx="1166.8" cy="372.2" r="0.92" fill-opacity="0.37"/><circle cx="1155.0" cy="378.1" r="0.95" fill-opacity="0.39"/><circle cx="1143.2" cy="384.0" r="0.98" fill-opacity="0.42"/><circle cx="1131.4" cy="390.0" r="1.01" fill-opacity="0.44"/><circle cx="1119.6" cy="395.9" r="1.05" fill-opacity="0.46"/><circle cx="1107.8" cy="401.8" r="1.08" fill-opacity="0.49"/><circle cx="1190.7" cy="350.3" r="0.81" fill-opacity="0.28"/><circle cx="1178.9" cy="356.5" r="0.84" fill-opacity="0.31"/><circle cx="1167.1" cy="362.6" r="0.87" fill-opacity="0.33"/><circle cx="1155.3" cy="368.8" r="0.90" fill-opacity="0.36"/><circle cx="1143.5" cy="374.9" r="0.94" fill-opacity="0.38"/><circle cx="1131.7" cy="381.1" r="0.97" fill-opacity="0.40"/><circle cx="1119.9" cy="387.2" r="1.00" fill-opacity="0.43"/><circle cx="1108.1" cy="393.3" r="1.03" fill-opacity="0.45"/><circle cx="1190.7" cy="340.5" r="0.76" fill-opacity="0.24"/><circle cx="1178.9" cy="346.9" r="0.79" fill-opacity="0.27"/><circle cx="1167.1" cy="353.3" r="0.82" fill-opacity="0.29"/><circle cx="1155.3" cy="359.6" r="0.86" fill-opacity="0.32"/><circle cx="1143.5" cy="366.0" r="0.89" fill-opacity="0.34"/><circle cx="1131.7" cy="372.4" r="0.92" fill-opacity="0.37"/><circle cx="1119.9" cy="378.7" r="0.96" fill-opacity="0.39"/><circle cx="1108.1" cy="385.1" r="0.99" fill-opacity="0.42"/><circle cx="1190.2" cy="331.0" r="0.71" fill-opacity="0.20"/><circle cx="1178.4" cy="337.6" r="0.74" fill-opacity="0.23"/><circle cx="1166.6" cy="344.2" r="0.77" fill-opacity="0.26"/><circle cx="1154.8" cy="350.7" r="0.81" fill-opacity="0.28"/><circle cx="1143.0" cy="357.3" r="0.84" fill-opacity="0.31"/><circle cx="1131.2" cy="363.9" r="0.88" fill-opacity="0.34"/><circle cx="1119.4" cy="370.5" r="0.91" fill-opacity="0.36"/><circle cx="1107.6" cy="377.1" r="0.95" fill-opacity="0.39"/><circle cx="1165.6" cy="335.3" r="0.73" fill-opacity="0.22"/><circle cx="1153.8" cy="342.1" r="0.76" fill-opacity="0.25"/><circle cx="1142.0" cy="348.9" r="0.80" fill-opacity="0.28"/><circle cx="1130.2" cy="355.7" r="0.84" fill-opacity="0.30"/><circle cx="1118.4" cy="362.5" r="0.87" fill-opacity="0.33"/><circle cx="1106.6" cy="369.3" r="0.91" fill-opacity="0.36"/><circle cx="1152.5" cy="333.8" r="0.72" fill-opacity="0.22"/><circle cx="1140.7" cy="340.8" r="0.76" fill-opacity="0.24"/><circle cx="1128.9" cy="347.8" r="0.79" fill-opacity="0.27"/><circle cx="1117.1" cy="354.8" r="0.83" fill-opacity="0.30"/><circle cx="1105.3" cy="361.9" r="0.87" fill-opacity="0.33"/><circle cx="1138.9" cy="333.0" r="0.72" fill-opacity="0.21"/><circle cx="1127.1" cy="340.2" r="0.75" fill-opacity="0.24"/><circle cx="1115.3" cy="347.5" r="0.79" fill-opacity="0.27"/><circle cx="1103.5" cy="354.7" r="0.83" fill-opacity="0.30"/></svg>
<div id="chart"><svg width="800" height="660" viewBox="0 0 800 660" style="display:block"><defs><clipPath id="pane"><rect x="56.2" y="57.5" width="673.9" height="392.7"/></clipPath><clipPath id="pane2"><rect x="56.2" y="450.2" width="673.9" height="209.8"/></clipPath></defs><rect x="0.75" y="0.75" width="798.5" height="700" rx="16" fill="#fafbfc" stroke="#eaecef" stroke-width="1.4"/><path d="M782 1.2Q798.6 1.2 798.6 18V660" fill="none" stroke="#dcdfe4" stroke-width="2.2"/><rect x="16.0" y="17.0" width="763.0" height="660" fill="#fefefe" stroke="#f0f1f4" stroke-width="1"/><line x1="16.0" y1="57.5" x2="779.0" y2="57.5" stroke="#e3e5ea" stroke-width="1.2"/><line x1="56.2" y1="17.0" x2="56.2" y2="660" stroke="#e3e5ea" stroke-width="1.2"/><line x1="730.1" y1="57.5" x2="730.1" y2="660" stroke="#8a8d93" stroke-width="1"/><line x1="93.6" y1="24" x2="93.6" y2="51" stroke="#e3e5ea" stroke-width="1.2"/><line x1="130.6" y1="24" x2="130.6" y2="51" stroke="#e3e5ea" stroke-width="1.2"/><line x1="169.1" y1="24" x2="169.1" y2="51" stroke="#e3e5ea" stroke-width="1.2"/><line x1="237.4" y1="24" x2="237.4" y2="51" stroke="#e3e5ea" stroke-width="1.2"/><line x1="274.0" y1="24" x2="274.0" y2="51" stroke="#e3e5ea" stroke-width="1.2"/><line x1="310.8" y1="24" x2="310.8" y2="51" stroke="#e3e5ea" stroke-width="1.2"/><g stroke="#e9ebef" stroke-width="1.1"><line x1="126.0" y1="57.5" x2="126.0" y2="660" /><line x1="193.8" y1="57.5" x2="193.8" y2="660" /><line x1="261.6" y1="57.5" x2="261.6" y2="660" /><line x1="329.4" y1="57.5" x2="329.4" y2="660" /><line x1="397.2" y1="57.5" x2="397.2" y2="660" /><line x1="465.0" y1="57.5" x2="465.0" y2="660" /><line x1="532.8" y1="57.5" x2="532.8" y2="660" /><line x1="600.6" y1="57.5" x2="600.6" y2="660" /><line x1="668.4" y1="57.5" x2="668.4" y2="660" /><line x1="56.2" y1="82.1" x2="730.1" y2="82.1" /><line x1="56.2" y1="135.6" x2="730.1" y2="135.6" /><line x1="56.2" y1="189.1" x2="730.1" y2="189.1" /><line x1="56.2" y1="242.6" x2="730.1" y2="242.6" /><line x1="56.2" y1="296.1" x2="730.1" y2="296.1" /><line x1="56.2" y1="349.6" x2="730.1" y2="349.6" /><line x1="56.2" y1="403.1" x2="730.1" y2="403.1" /><line x1="56.2" y1="452.6" x2="730.1" y2="452.6" /><line x1="56.2" y1="505.8" x2="730.1" y2="505.8" /><line x1="56.2" y1="559.0" x2="730.1" y2="559.0" /><line x1="56.2" y1="612.2" x2="730.1" y2="612.2" /></g><line x1="56.2" y1="450.2" x2="730.1" y2="450.2" stroke="#9a9ca2" stroke-width="1.3"/><g clip-path="url(#pane)"><rect x="288.0" y="111.7" width="365.5" height="74.9" fill="#f9e5e7"/><rect x="288.0" y="186.6" width="365.5" height="46.4" fill="#f2f6e6"/><rect x="288.0" y="233.0" width="365.5" height="37.4" fill="#e7f5e4"/><rect x="288.0" y="270.4" width="365.5" height="37.3" fill="#e5f5ef"/><rect x="288.0" y="307.7" width="365.5" height="53.5" fill="#e6f0f9"/><rect x="288.0" y="361.2" width="365.5" height="67.9" fill="#efeff0"/><rect x="288.0" y="429.2" width="365.5" height="86.3" fill="#e8e6f8"/></g><clipPath id="fibc"><rect x="288.0" y="111.7" width="365.5" height="338.5"/></clipPath><g clip-path="url(#fibc)" stroke="#d9dbe0" stroke-width="0.9" opacity="0.6"><line x1="126.0" y1="57.5" x2="126.0" y2="660" /><line x1="193.8" y1="57.5" x2="193.8" y2="660" /><line x1="261.6" y1="57.5" x2="261.6" y2="660" /><line x1="329.4" y1="57.5" x2="329.4" y2="660" /><line x1="397.2" y1="57.5" x2="397.2" y2="660" /><line x1="465.0" y1="57.5" x2="465.0" y2="660" /><line x1="532.8" y1="57.5" x2="532.8" y2="660" /><line x1="600.6" y1="57.5" x2="600.6" y2="660" /><line x1="668.4" y1="57.5" x2="668.4" y2="660" /><line x1="56.2" y1="82.1" x2="730.1" y2="82.1" /><line x1="56.2" y1="135.6" x2="730.1" y2="135.6" /><line x1="56.2" y1="189.1" x2="730.1" y2="189.1" /><line x1="56.2" y1="242.6" x2="730.1" y2="242.6" /><line x1="56.2" y1="296.1" x2="730.1" y2="296.1" /><line x1="56.2" y1="349.6" x2="730.1" y2="349.6" /><line x1="56.2" y1="403.1" x2="730.1" y2="403.1" /><line x1="56.2" y1="452.6" x2="730.1" y2="452.6" /><line x1="56.2" y1="505.8" x2="730.1" y2="505.8" /><line x1="56.2" y1="559.0" x2="730.1" y2="559.0" /><line x1="56.2" y1="612.2" x2="730.1" y2="612.2" /></g><g clip-path="url(#pane)"><line x1="288.0" y1="111.7" x2="653.5" y2="111.7" stroke="#8a8a8a" stroke-width="1.6"/><line x1="288.0" y1="186.6" x2="653.5" y2="186.6" stroke="#e04848" stroke-width="1.6"/><line x1="288.0" y1="233.0" x2="653.5" y2="233.0" stroke="#a3c83a" stroke-width="1.6"/><line x1="288.0" y1="270.4" x2="653.5" y2="270.4" stroke="#4cc43c" stroke-width="1.6"/><line x1="288.0" y1="307.7" x2="653.5" y2="307.7" stroke="#2fbf8f" stroke-width="1.6"/><line x1="288.0" y1="361.2" x2="653.5" y2="361.2" stroke="#3d8fd6" stroke-width="1.6"/><line x1="288.0" y1="429.2" x2="653.5" y2="429.2" stroke="#777a80" stroke-width="1.6"/></g><g font-family="DejaVu Sans, sans-serif" font-size="10.4" stroke-width="0.25"><text x="283.2" y="115.3" text-anchor="end" fill="#8a8a8a" stroke="#8a8a8a" textLength="67" lengthAdjust="spacingAndGlyphs">0.000 (1.08434)</text><text x="283.2" y="190.2" text-anchor="end" fill="#e04848" stroke="#e04848" textLength="67" lengthAdjust="spacingAndGlyphs">0.236 (1.08014)</text><text x="283.2" y="236.6" text-anchor="end" fill="#a3c83a" stroke="#a3c83a" textLength="67" lengthAdjust="spacingAndGlyphs">0.382 (1.07754)</text><text x="283.2" y="274.0" text-anchor="end" fill="#4cc43c" stroke="#4cc43c" textLength="67" lengthAdjust="spacingAndGlyphs">0.500 (1.07544)</text><text x="283.2" y="311.3" text-anchor="end" fill="#2fbf8f" stroke="#2fbf8f" textLength="67" lengthAdjust="spacingAndGlyphs">0.618 (1.07335)</text></g><line x1="288.0" y1="429.2" x2="653.5" y2="111.7" stroke="#7f9bb0" stroke-width="1.1" clip-path="url(#pane)"/><line x1="56.2" y1="123.5" x2="730.1" y2="123.5" stroke="#2aa89b" stroke-width="1.7"/><g clip-path="url(#pane)"><line x1="57.4" y1="278.4" x2="57.4" y2="296.0" stroke="#26a69a" stroke-width="1.2"/><rect x="54.6" y="285.1" width="5.6" height="2.1" fill="#26a69a"/><line x1="65.3" y1="283.4" x2="65.3" y2="294.8" stroke="#ef5350" stroke-width="1.2"/><rect x="62.5" y="285.5" width="5.6" height="6.9" fill="#ef5350"/><line x1="72.8" y1="281.2" x2="72.8" y2="294.7" stroke="#26a69a" stroke-width="1.2"/><rect x="70.0" y="286.8" width="5.6" height="4.3" fill="#26a69a"/><line x1="80.5" y1="283.2" x2="80.5" y2="298.7" stroke="#ef5350" stroke-width="1.2"/><rect x="77.7" y="286.7" width="5.6" height="6.7" fill="#ef5350"/><line x1="90.2" y1="290.3" x2="90.2" y2="354.5" stroke="#ef5350" stroke-width="1.2"/><rect x="87.4" y="294.2" width="5.6" height="55.1" fill="#ef5350"/><line x1="97.9" y1="310.9" x2="97.9" y2="351.3" stroke="#26a69a" stroke-width="1.2"/><rect x="95.1" y="336.8" width="5.6" height="10.4" fill="#26a69a"/><line x1="105.8" y1="313.8" x2="105.8" y2="363.5" stroke="#ef5350" stroke-width="1.2"/><rect x="103.0" y="340.7" width="5.6" height="18.6" fill="#ef5350"/><line x1="114.6" y1="346.8" x2="114.6" y2="374.7" stroke="#ef5350" stroke-width="1.2"/><rect x="111.8" y="354.0" width="5.6" height="15.5" fill="#ef5350"/><line x1="122.3" y1="348.7" x2="122.3" y2="377.6" stroke="#26a69a" stroke-width="1.2"/><rect x="119.5" y="357.0" width="5.6" height="12.4" fill="#26a69a"/><line x1="130.6" y1="353.7" x2="130.6" y2="385.7" stroke="#ef5350" stroke-width="1.2"/><rect x="127.8" y="360.9" width="5.6" height="18.6" fill="#ef5350"/><line x1="139.3" y1="366.9" x2="139.3" y2="395.8" stroke="#ef5350" stroke-width="1.2"/><rect x="136.5" y="374.2" width="5.6" height="15.5" fill="#ef5350"/><line x1="147.3" y1="368.8" x2="147.3" y2="399.8" stroke="#26a69a" stroke-width="1.2"/><rect x="144.5" y="377.1" width="5.6" height="17.5" fill="#26a69a"/><line x1="153.6" y1="358.4" x2="153.6" y2="389.3" stroke="#26a69a" stroke-width="1.2"/><rect x="150.8" y="363.5" width="5.6" height="17.5" fill="#26a69a"/><line x1="159.7" y1="342.8" x2="159.7" y2="370.6" stroke="#26a69a" stroke-width="1.2"/><rect x="156.9" y="347.9" width="5.6" height="18.6" fill="#26a69a"/><line x1="166.8" y1="337.5" x2="166.8" y2="363.2" stroke="#ef5350" stroke-width="1.2"/><rect x="164.0" y="345.7" width="5.6" height="12.4" fill="#ef5350"/><line x1="173.8" y1="333.2" x2="173.8" y2="357.9" stroke="#26a69a" stroke-width="1.2"/><rect x="171.0" y="339.4" width="5.6" height="12.4" fill="#26a69a"/><line x1="181.1" y1="332.0" x2="181.1" y2="355.7" stroke="#ef5350" stroke-width="1.2"/><rect x="178.3" y="337.2" width="5.6" height="12.4" fill="#ef5350"/><line x1="189.5" y1="304.0" x2="189.5" y2="351.4" stroke="#26a69a" stroke-width="1.2"/><rect x="186.7" y="307.6" width="5.6" height="39.7" fill="#26a69a"/><line x1="195.9" y1="286.1" x2="195.9" y2="326.6" stroke="#ef5350" stroke-width="1.2"/><rect x="193.1" y="307.8" width="5.6" height="11.0" fill="#ef5350"/><line x1="203.3" y1="300.7" x2="203.3" y2="328.5" stroke="#26a69a" stroke-width="1.2"/><rect x="200.5" y="309.2" width="5.6" height="10.0" fill="#26a69a"/><line x1="210.9" y1="302.6" x2="210.9" y2="314.0" stroke="#26a69a" stroke-width="1.2"/><rect x="208.1" y="307.0" width="5.6" height="1.9" fill="#26a69a"/><line x1="218.8" y1="295.3" x2="218.8" y2="310.7" stroke="#26a69a" stroke-width="1.2"/><rect x="216.0" y="299.2" width="5.6" height="8.9" fill="#26a69a"/><line x1="226.9" y1="290.5" x2="226.9" y2="328.0" stroke="#ef5350" stroke-width="1.2"/><rect x="224.1" y="299.3" width="5.6" height="8.6" fill="#ef5350"/><line x1="235.5" y1="305.3" x2="235.5" y2="351.5" stroke="#ef5350" stroke-width="1.2"/><rect x="232.7" y="308.7" width="5.6" height="37.7" fill="#ef5350"/><line x1="246.4" y1="341.0" x2="246.4" y2="366.7" stroke="#ef5350" stroke-width="1.2"/><rect x="243.6" y="346.2" width="5.6" height="15.4" fill="#ef5350"/><line x1="254.8" y1="343.9" x2="254.8" y2="370.6" stroke="#26a69a" stroke-width="1.2"/><rect x="252.0" y="351.1" width="5.6" height="13.3" fill="#26a69a"/><line x1="263.6" y1="349.9" x2="263.6" y2="379.6" stroke="#ef5350" stroke-width="1.2"/><rect x="260.8" y="356.1" width="5.6" height="18.5" fill="#ef5350"/><line x1="272.9" y1="364.1" x2="272.9" y2="392.7" stroke="#ef5350" stroke-width="1.2"/><rect x="270.1" y="371.2" width="5.6" height="15.4" fill="#ef5350"/><line x1="281.3" y1="370.0" x2="281.3" y2="394.6" stroke="#26a69a" stroke-width="1.2"/><rect x="278.5" y="376.2" width="5.6" height="12.3" fill="#26a69a"/><line x1="289.7" y1="373.9" x2="289.7" y2="401.6" stroke="#ef5350" stroke-width="1.2"/><rect x="286.9" y="378.0" width="5.6" height="16.4" fill="#ef5350"/><line x1="298.1" y1="375.8" x2="298.1" y2="402.4" stroke="#26a69a" stroke-width="1.2"/><rect x="295.3" y="384.0" width="5.6" height="12.3" fill="#26a69a"/><line x1="306.1" y1="375.6" x2="306.1" y2="404.2" stroke="#ef5350" stroke-width="1.2"/><rect x="303.3" y="381.7" width="5.6" height="16.4" fill="#ef5350"/><line x1="315.1" y1="385.6" x2="315.1" y2="414.2" stroke="#ef5350" stroke-width="1.2"/><rect x="312.3" y="393.8" width="5.6" height="14.3" fill="#ef5350"/><line x1="322.9" y1="383.4" x2="322.9" y2="411.0" stroke="#26a69a" stroke-width="1.2"/><rect x="320.1" y="390.6" width="5.6" height="15.3" fill="#26a69a"/><line x1="329.5" y1="370.0" x2="329.5" y2="395.5" stroke="#26a69a" stroke-width="1.2"/><rect x="326.7" y="375.1" width="5.6" height="16.3" fill="#26a69a"/><line x1="335.9" y1="321.9" x2="335.9" y2="359.6" stroke="#ef5350" stroke-width="1.2"/><rect x="333.1" y="339.2" width="5.6" height="15.3" fill="#ef5350"/><line x1="343.7" y1="336.0" x2="343.7" y2="364.6" stroke="#26a69a" stroke-width="1.2"/><rect x="340.9" y="344.2" width="5.6" height="15.3" fill="#26a69a"/><line x1="351.3" y1="333.8" x2="351.3" y2="358.3" stroke="#ef5350" stroke-width="1.2"/><rect x="348.5" y="342.0" width="5.6" height="10.2" fill="#ef5350"/><line x1="359.0" y1="331.6" x2="359.0" y2="354.0" stroke="#26a69a" stroke-width="1.2"/><rect x="356.2" y="338.8" width="5.6" height="10.2" fill="#26a69a"/><line x1="366.7" y1="329.4" x2="366.7" y2="349.8" stroke="#26a69a" stroke-width="1.2"/><rect x="363.9" y="335.5" width="5.6" height="10.2" fill="#26a69a"/><line x1="374.5" y1="330.3" x2="374.5" y2="347.6" stroke="#ef5350" stroke-width="1.2"/><rect x="371.7" y="335.4" width="5.6" height="8.2" fill="#ef5350"/><line x1="382.2" y1="327.1" x2="382.2" y2="345.4" stroke="#26a69a" stroke-width="1.2"/><rect x="379.4" y="331.2" width="5.6" height="10.2" fill="#26a69a"/><line x1="389.9" y1="325.9" x2="389.9" y2="343.2" stroke="#26a69a" stroke-width="1.2"/><rect x="387.1" y="329.0" width="5.6" height="10.2" fill="#26a69a"/><line x1="394.8" y1="281.1" x2="394.8" y2="311.2" stroke="#ef5350" stroke-width="1.2"/><rect x="392.0" y="287.1" width="5.6" height="1.3" fill="#ef5350"/><line x1="402.6" y1="260.7" x2="402.6" y2="293.2" stroke="#26a69a" stroke-width="1.2"/><rect x="399.8" y="272.1" width="5.6" height="15.4" fill="#26a69a"/><line x1="410.4" y1="233.1" x2="410.4" y2="280.8" stroke="#26a69a" stroke-width="1.2"/><rect x="407.6" y="248.5" width="5.6" height="22.7" fill="#26a69a"/><line x1="418.0" y1="247.5" x2="418.0" y2="297.8" stroke="#ef5350" stroke-width="1.2"/><rect x="415.2" y="249.2" width="5.6" height="34.0" fill="#ef5350"/><line x1="425.9" y1="245.8" x2="425.9" y2="324.2" stroke="#ef5350" stroke-width="1.2"/><rect x="423.1" y="283.0" width="5.6" height="30.8" fill="#ef5350"/><line x1="432.8" y1="293.5" x2="432.8" y2="322.5" stroke="#26a69a" stroke-width="1.2"/><rect x="430.0" y="297.5" width="5.6" height="15.3" fill="#26a69a"/><line x1="440.7" y1="295.0" x2="440.7" y2="309.5" stroke="#ef5350" stroke-width="1.2"/><rect x="437.9" y="298.2" width="5.6" height="9.7" fill="#ef5350"/><line x1="448.3" y1="304.5" x2="448.3" y2="319.1" stroke="#ef5350" stroke-width="1.2"/><rect x="445.5" y="308.5" width="5.6" height="8.9" fill="#ef5350"/><line x1="455.8" y1="306.8" x2="455.8" y2="329.7" stroke="#ef5350" stroke-width="1.2"/><rect x="453.0" y="317.3" width="5.6" height="8.3" fill="#ef5350"/><line x1="464.0" y1="309.9" x2="464.0" y2="335.6" stroke="#26a69a" stroke-width="1.2"/><rect x="461.2" y="313.1" width="5.6" height="18.5" fill="#26a69a"/><line x1="471.5" y1="286.8" x2="471.5" y2="323.3" stroke="#26a69a" stroke-width="1.2"/><rect x="468.7" y="311.7" width="5.6" height="1.5" fill="#26a69a"/><line x1="478.9" y1="286.7" x2="478.9" y2="313.0" stroke="#26a69a" stroke-width="1.2"/><rect x="476.1" y="289.3" width="5.6" height="22.8" fill="#26a69a"/><line x1="486.1" y1="273.6" x2="486.1" y2="294.3" stroke="#26a69a" stroke-width="1.2"/><rect x="483.3" y="284.1" width="5.6" height="4.8" fill="#26a69a"/><line x1="494.0" y1="283.4" x2="494.0" y2="298.6" stroke="#ef5350" stroke-width="1.2"/><rect x="491.2" y="284.7" width="5.6" height="9.6" fill="#ef5350"/><line x1="501.2" y1="257.2" x2="501.2" y2="304.4" stroke="#26a69a" stroke-width="1.2"/><rect x="498.4" y="266.3" width="5.6" height="27.8" fill="#26a69a"/><line x1="509.4" y1="232.9" x2="509.4" y2="275.2" stroke="#26a69a" stroke-width="1.2"/><rect x="506.6" y="237.2" width="5.6" height="29.0" fill="#26a69a"/><line x1="516.6" y1="162.0" x2="516.6" y2="240.7" stroke="#26a69a" stroke-width="1.2"/><rect x="513.8" y="199.6" width="5.6" height="38.0" fill="#26a69a"/><line x1="524.4" y1="197.9" x2="524.4" y2="230.3" stroke="#ef5350" stroke-width="1.2"/><rect x="521.6" y="200.0" width="5.6" height="20.6" fill="#ef5350"/><line x1="531.8" y1="200.8" x2="531.8" y2="221.6" stroke="#26a69a" stroke-width="1.2"/><rect x="529.0" y="204.7" width="5.6" height="9.6" fill="#26a69a"/><line x1="539.9" y1="200.3" x2="539.9" y2="220.3" stroke="#ef5350" stroke-width="1.2"/><rect x="537.1" y="205.1" width="5.6" height="9.9" fill="#ef5350"/><line x1="547.2" y1="185.6" x2="547.2" y2="218.5" stroke="#26a69a" stroke-width="1.2"/><rect x="544.4" y="188.8" width="5.6" height="26.6" fill="#26a69a"/><line x1="554.8" y1="185.3" x2="554.8" y2="202.1" stroke="#ef5350" stroke-width="1.2"/><rect x="552.0" y="188.7" width="5.6" height="7.3" fill="#ef5350"/><line x1="562.1" y1="166.1" x2="562.1" y2="200.7" stroke="#26a69a" stroke-width="1.2"/><rect x="559.3" y="171.0" width="5.6" height="25.6" fill="#26a69a"/><line x1="570.2" y1="167.0" x2="570.2" y2="174.1" stroke="#ef5350" stroke-width="1.2"/><rect x="567.4" y="169.6" width="5.6" height="1.4" fill="#ef5350"/><line x1="577.4" y1="160.1" x2="577.4" y2="173.9" stroke="#26a69a" stroke-width="1.2"/><rect x="574.6" y="165.2" width="5.6" height="4.6" fill="#26a69a"/><line x1="585.3" y1="148.4" x2="585.3" y2="166.6" stroke="#26a69a" stroke-width="1.2"/><rect x="582.5" y="152.8" width="5.6" height="13.0" fill="#26a69a"/><line x1="592.6" y1="136.9" x2="592.6" y2="162.2" stroke="#26a69a" stroke-width="1.2"/><rect x="589.8" y="142.3" width="5.6" height="9.7" fill="#26a69a"/><line x1="600.0" y1="117.2" x2="600.0" y2="186.7" stroke="#26a69a" stroke-width="1.2"/><rect x="597.2" y="138.6" width="5.6" height="3.2" fill="#26a69a"/><line x1="607.6" y1="130.9" x2="607.6" y2="172.9" stroke="#ef5350" stroke-width="1.2"/><rect x="604.8" y="138.6" width="5.6" height="7.6" fill="#ef5350"/><line x1="615.8" y1="116.0" x2="615.8" y2="146.8" stroke="#26a69a" stroke-width="1.2"/><rect x="613.0" y="120.0" width="5.6" height="26.0" fill="#26a69a"/><line x1="623.1" y1="133.0" x2="623.1" y2="186.1" stroke="#26a69a" stroke-width="1.2"/><rect x="620.3" y="153.2" width="5.6" height="30.3" fill="#26a69a"/><line x1="630.7" y1="127.1" x2="630.7" y2="155.3" stroke="#26a69a" stroke-width="1.2"/><rect x="627.9" y="140.4" width="5.6" height="12.8" fill="#26a69a"/><line x1="638.1" y1="114.8" x2="638.1" y2="163.9" stroke="#26a69a" stroke-width="1.2"/><rect x="635.3" y="123.5" width="5.6" height="16.6" fill="#26a69a"/><line x1="645.9" y1="112.5" x2="645.9" y2="149.8" stroke="#26a69a" stroke-width="1.2"/><rect x="643.1" y="113.2" width="5.6" height="9.5" fill="#26a69a"/><line x1="653.4" y1="112.2" x2="653.4" y2="140.7" stroke="#ef5350" stroke-width="1.2"/><rect x="650.6" y="112.8" width="5.6" height="21.3" fill="#ef5350"/><line x1="661.1" y1="132.0" x2="661.1" y2="151.4" stroke="#ef5350" stroke-width="1.2"/><rect x="658.3" y="134.8" width="5.6" height="13.8" fill="#ef5350"/><line x1="668.6" y1="132.0" x2="668.6" y2="149.9" stroke="#26a69a" stroke-width="1.2"/><rect x="665.8" y="143.9" width="5.6" height="5.6" fill="#26a69a"/><line x1="675.9" y1="136.3" x2="675.9" y2="157.1" stroke="#26a69a" stroke-width="1.2"/><rect x="673.1" y="138.8" width="5.6" height="5.0" fill="#26a69a"/><line x1="683.3" y1="137.2" x2="683.3" y2="164.6" stroke="#ef5350" stroke-width="1.2"/><rect x="680.5" y="138.7" width="5.6" height="12.2" fill="#ef5350"/><line x1="691.4" y1="141.2" x2="691.4" y2="169.8" stroke="#ef5350" stroke-width="1.2"/><rect x="688.6" y="151.6" width="5.6" height="11.3" fill="#ef5350"/><line x1="699.0" y1="142.1" x2="699.0" y2="181.1" stroke="#ef5350" stroke-width="1.2"/><rect x="696.2" y="163.7" width="5.6" height="10.6" fill="#ef5350"/><line x1="706.3" y1="162.1" x2="706.3" y2="180.2" stroke="#26a69a" stroke-width="1.2"/><rect x="703.5" y="168.1" width="5.6" height="5.3" fill="#26a69a"/><line x1="713.6" y1="162.0" x2="713.6" y2="171.8" stroke="#ef5350" stroke-width="1.2"/><rect x="710.8" y="169.2" width="5.6" height="1.3" fill="#ef5350"/><line x1="720.9" y1="154.3" x2="720.9" y2="171.7" stroke="#26a69a" stroke-width="1.2"/><rect x="718.1" y="158.6" width="5.6" height="11.6" fill="#26a69a"/><line x1="728.1" y1="147.3" x2="728.1" y2="169.4" stroke="#ef5350" stroke-width="1.2"/><rect x="725.3" y="158.6" width="5.6" height="5.1" fill="#ef5350"/></g><g clip-path="url(#pane)"><polyline points="38.0,299.5 55.8,300.9 65.4,302.1 112.4,301.8 137.8,297.9 159.1,301.5 183.5,313.4 208.2,328.4 250.5,348.1 321.4,370.2 390.1,373.7 434.2,360.6 468.1,345.0 480.1,336.3 489.0,332.1 501.0,329.4 522.3,328.8 539.1,324.8 561.1,316.7 571.7,308.8 583.3,297.0 606.1,278.7 616.9,267.2 639.9,242.6 674.4,216.3 704.6,197.0 730.1,182.2 739.6,176.3" fill="none" stroke="#42a5f5" stroke-width="1.4" stroke-linejoin="round"/><polyline points="39.8,318.2 57.3,315.8 66.5,314.0 117.0,301.2 136.2,306.0 156.2,320.1 168.7,329.2 228.2,356.8 322.9,385.5 411.8,363.1 457.5,323.6 464.5,321.7 482.8,317.5 500.2,319.8 514.1,316.9 525.2,312.9 534.6,307.5 545.4,300.3 553.0,289.8 560.7,281.3 570.3,269.0 586.2,250.2 609.0,227.4 631.8,206.8 652.3,187.5 661.7,182.9 677.9,172.6 689.5,163.6 701.2,157.8 715.6,156.1 729.1,155.9 737.9,156.3" fill="none" stroke="#ec3a7c" stroke-width="1.4" stroke-linejoin="round"/><polyline points="39.2,311.9 56.8,311.0 66.1,309.9 103.0,296.1 125.1,312.4 143.1,329.7 204.1,347.0 244.0,328.7 250.2,325.0 258.0,329.5 321.0,365.1 388.3,353.4 420.5,334.5 429.8,324.1 436.8,313.8 446.2,306.0 463.1,305.6 471.8,307.4 485.3,314.2 499.4,311.4 510.4,306.1 523.9,298.7 531.6,288.9 537.6,277.2 540.5,269.5 561.0,246.0 583.6,221.0 606.0,193.6 624.1,175.5 637.9,164.1 645.2,162.9 659.3,154.9 675.6,145.3 687.7,143.8 705.0,145.9 717.5,148.7 728.9,154.2 738.3,160.3" fill="none" stroke="#5cd03c" stroke-width="1.4" stroke-linejoin="round"/></g><g clip-path="url(#pane2)"><line x1="515.9" y1="483.9" x2="515.9" y2="660" stroke="#3d8fd6" stroke-width="1.4"/><line x1="531.4" y1="568.6" x2="531.4" y2="660" stroke="#3d8fd6" stroke-width="1.4"/><line x1="546.6" y1="566.7" x2="546.6" y2="660" stroke="#3d8fd6" stroke-width="1.4"/><line x1="561.8" y1="562.8" x2="561.8" y2="660" stroke="#3d8fd6" stroke-width="1.4"/><line x1="599.3" y1="549.1" x2="599.3" y2="660" stroke="#3d8fd6" stroke-width="1.4"/><line x1="501.3" y1="542.8" x2="501.3" y2="660" stroke="#3d8fd6" stroke-width="1.4"/><line x1="510.4" y1="557.6" x2="510.4" y2="660" stroke="#3d8fd6" stroke-width="1.4"/><line x1="492.5" y1="533.0" x2="492.5" y2="660" stroke="#3d8fd6" stroke-width="1.4"/></g><g font-family="DejaVu Sans, sans-serif" font-size="10.6" stroke-width="0.3"><text x="61.7" y="76.2" fill="#111318" stroke="#111318" textLength="146" lengthAdjust="spacingAndGlyphs">EURUSD, H4: Euro vs US Dollar</text><text x="214.3" y="75.5" fill="#2e9e3e" stroke="#2e9e3e" textLength="44.4" lengthAdjust="spacingAndGlyphs">O 1.08215</text><text x="265.4" y="75.3" fill="#2e9e3e" stroke="#2e9e3e" textLength="43.7" lengthAdjust="spacingAndGlyphs">H 1.08376</text><text x="316.2" y="75.0" fill="#2e9e3e" stroke="#2e9e3e" textLength="41.8" lengthAdjust="spacingAndGlyphs">L 1.08207</text><text x="365.1" y="74.8" fill="#2e9e3e" stroke="#2e9e3e" textLength="43.2" lengthAdjust="spacingAndGlyphs">C 1.08368</text><text x="415.1" y="74.5" fill="#2e9e3e" stroke="#2e9e3e" textLength="29.1" lengthAdjust="spacingAndGlyphs">V 4699</text><text x="61.8" y="98.8" fill="#80838a" stroke="#80838a" textLength="119.6" lengthAdjust="spacingAndGlyphs">Alligator (13, 8, 5, HL/2)</text><text x="188.6" y="99.2" fill="#3d9be9" stroke="#3d9be9" textLength="31.9" lengthAdjust="spacingAndGlyphs">1.07374</text><text x="223.7" y="99.0" fill="#e9327a" stroke="#e9327a" textLength="31.4" lengthAdjust="spacingAndGlyphs">1.07337</text><text x="259.0" y="98.8" fill="#4cc43c" stroke="#4cc43c" textLength="31.6" lengthAdjust="spacingAndGlyphs">1.07358</text></g><g font-family="DejaVu Sans, sans-serif" font-size="10.2" fill="#111318" stroke="#111318" stroke-width="0.25"><text x="735" y="85.8" textLength="32.7" lengthAdjust="spacingAndGlyphs">1.08600</text><line x1="730.1" y1="82.1" x2="733.1" y2="82.1" stroke="#555" stroke-width="1"/><text x="735" y="192.8" textLength="32.7" lengthAdjust="spacingAndGlyphs">1.08000</text><line x1="730.1" y1="189.1" x2="733.1" y2="189.1" stroke="#555" stroke-width="1"/><text x="735" y="246.3" textLength="32.7" lengthAdjust="spacingAndGlyphs">1.07700</text><line x1="730.1" y1="242.6" x2="733.1" y2="242.6" stroke="#555" stroke-width="1"/><text x="735" y="299.8" textLength="32.7" lengthAdjust="spacingAndGlyphs">1.07400</text><line x1="730.1" y1="296.1" x2="733.1" y2="296.1" stroke="#555" stroke-width="1"/><text x="735" y="353.3" textLength="32.7" lengthAdjust="spacingAndGlyphs">1.07100</text><line x1="730.1" y1="349.6" x2="733.1" y2="349.6" stroke="#555" stroke-width="1"/><text x="735" y="406.8" textLength="32.7" lengthAdjust="spacingAndGlyphs">1.06800</text><line x1="730.1" y1="403.1" x2="733.1" y2="403.1" stroke="#555" stroke-width="1"/><text x="735" y="140.3" textLength="32.7" lengthAdjust="spacingAndGlyphs">1.08300</text><text x="734.9" y="456.5" textLength="37.5" lengthAdjust="spacingAndGlyphs">0.008000</text><line x1="730.1" y1="452.6" x2="733.1" y2="452.6" stroke="#555" stroke-width="1"/><text x="734.9" y="509.6" textLength="37.5" lengthAdjust="spacingAndGlyphs">0.006000</text><line x1="730.1" y1="505.8" x2="733.1" y2="505.8" stroke="#555" stroke-width="1"/><text x="734.9" y="562.9" textLength="37.5" lengthAdjust="spacingAndGlyphs">0.004000</text><line x1="730.1" y1="559.0" x2="733.1" y2="559.0" stroke="#555" stroke-width="1"/><text x="734.9" y="616.1" textLength="37.5" lengthAdjust="spacingAndGlyphs">0.002000</text><line x1="730.1" y1="612.2" x2="733.1" y2="612.2" stroke="#555" stroke-width="1"/></g><rect x="730.1" y="115.3" width="48.9" height="17.2" fill="#26a69a"/><text x="735" y="127.3" font-family="DejaVu Sans, sans-serif" font-size="10.2" fill="#ffffff" textLength="32.7" lengthAdjust="spacingAndGlyphs">1.08368</text><path d="M28.8 32.7h13.6M28.8 37.8h13.6M28.8 42.9h13.6" fill="none" stroke="#2a2e39" stroke-width="1.6" stroke-linecap="round"/><g transform="translate(73.9 37.7) scale(0.85) translate(-73.9 -37.7)"><g fill="#2962ff" stroke="#2962ff" stroke-width="1.5"><path d="M70 29.5v17M77.5 28.5v17"/><rect x="68" y="32" width="4" height="10" rx="0.5"/><rect x="75.6" y="31" width="3.8" height="9" fill="#fff" rx="0.5"/></g></g><g transform="translate(110.7 37.6) scale(0.88) translate(-110.7 -37.6)"><g stroke="#2a2e39" stroke-width="1.6" fill="none" stroke-linecap="round"><path d="M103 44v-2.5M106 44v-4.5M109 44v-7M112 44v-5M115 44v-8"/><path d="M114 29l4.5 4.5M118.5 29l-4.5 4.5"/></g></g><text x="148.7" y="41.8" text-anchor="middle" font-family="DejaVu Sans, sans-serif" font-size="12" fill="#6a6d78" textLength="14" lengthAdjust="spacingAndGlyphs">H4</text><path d="M182.1 37.4h9M186.6 32.9v9" fill="none" stroke="#2a2e39" stroke-width="1.6" stroke-linecap="round"/><path d="M213.1 37.3h8" fill="none" stroke="#2a2e39" stroke-width="1.6" stroke-linecap="round"/><g transform="translate(254.7 37.2) scale(0.85) translate(-254.7 -37.2)"><g stroke="#2a2e39" stroke-width="1.6" fill="none" stroke-linecap="round"><path d="M246 43c3-1 3-10 6-10s2 7 5 7 3-7 6-8"/><path d="M249 46l3-4M260 31l3-3"/></g></g><g transform="translate(292.1 37.1) scale(0.85) translate(-292.1 -37.1)"><g stroke="#2a2e39" stroke-width="1.6" fill="none"><rect x="284.6" y="30.6" width="15" height="14" rx="2.5"/><path d="M284.6 34.6h15M288.6 28.6v3.5M295.6 28.6v3.5"/></g><g fill="#2a2e39"><circle cx="288.6" cy="38.3" r="0.9"/><circle cx="292.1" cy="38.3" r="0.9"/><circle cx="295.6" cy="38.3" r="0.9"/><circle cx="288.6" cy="41.6" r="0.9"/><circle cx="292.1" cy="41.6" r="0.9"/><circle cx="295.6" cy="41.6" r="0.9"/></g></g><g transform="translate(330 37) scale(0.88) translate(-330 -37)"><g stroke="#2a2e39" stroke-width="1.7" fill="none" stroke-linecap="round" stroke-linejoin="round"><path d="M323 37v7.5h14V37"/><path d="M330 40V29M326 32.5l4-4 4 4"/></g></g><path d="M90.2 50.3v4h-4z" fill="#2a2e39"/><path d="M127.8 50.199999999999996v4h-4z" fill="#2a2e39"/><path d="M165.2 50.099999999999994v4h-4z" fill="#2a2e39"/><path d="M722.6 45V30.6Q722.6 27.8 725.4 27.8H736.8Q739.6 27.8 739.6 30.6V33.6" fill="none" stroke="#2a2e39" stroke-width="1.7" stroke-dasharray="2.6 2.3"/><path d="M726.6 37.3h3.1l1.4-2.1h4.5l1.4 2.1h2.3v7.7h-12.7z" fill="#2a2e39"/><circle cx="733" cy="40.9" r="2.5" fill="#fff"/><circle cx="733.2" cy="40.9" r="0.9" fill="#2a2e39"/><g transform="translate(760.3 36) scale(0.82) translate(-760.3 -36)"><g stroke="#2a2e39" stroke-width="1.9" fill="none" stroke-linecap="round"><path d="M752 28l5 5M768.5 28l-5 5M752 44l5-5M768.5 44l-5-5"/></g><g fill="#2a2e39"><path d="M751 27h5.5l-5.5 5.5z"/><path d="M769.5 27h-5.5l5.5 5.5z"/><path d="M751 45h5.5l-5.5-5.5z"/><path d="M769.5 45h-5.5l5.5-5.5z"/></g></g><g transform="translate(35.9 74.9) scale(0.8) translate(-35.9 -74.9)"><path d="M26.9 74.9h5.5M39.4 74.9h5.5M35.9 65.9v5.5M35.9 78.4v5.5" stroke="#2a2e39" stroke-width="1.9" fill="none" stroke-linecap="round"/></g><g transform="translate(35.9 109.5) scale(0.8) translate(-35.9 -109.5)"><g transform="translate(35.9 109.5) rotate(-40)"><rect x="-10" y="-4" width="20" height="8" rx="0.8" fill="none" stroke="#2a2e39" stroke-width="1.9"/><path d="M-6 4v-3M-3 4v-3M0 4v-3M3 4v-3M6 4v-3" stroke="#2a2e39" stroke-width="1.4"/></g></g><g transform="translate(35.9 143.4) scale(0.8) translate(-35.9 -143.4)"><g stroke="#2a2e39" stroke-width="1.9" fill="none" stroke-linecap="round"><path d="M29.9 149.4L41.9 137.4"/><circle cx="28.4" cy="150.9" r="2.3" fill="#fff"/><circle cx="43.4" cy="135.9" r="2.3" fill="#fff"/></g></g><g transform="translate(35.9 177.5) scale(0.8) translate(-35.9 -177.5)"><g stroke="#2a2e39" stroke-width="1.9" fill="none" stroke-linecap="round"><path d="M25.9 179.5L36.9 168.5M30.9 183.5L40.9 173.5M34.9 187.5L44.9 177.5"/><circle cx="28.4" cy="186.0" r="2.2" fill="#fff"/><circle cx="42.9" cy="171.5" r="2.2" fill="#fff"/></g></g><g transform="translate(35.9 211.7) scale(0.8) translate(-35.9 -211.7)"><g stroke="#2a2e39" stroke-width="1.9" fill="none" stroke-linecap="round"><path d="M27.9 217.7L35.9 211.7L43.9 205.7"/><circle cx="27.4" cy="218.2" r="2.3" fill="#fff"/><circle cx="35.9" cy="211.7" r="2.3" fill="#fff"/><circle cx="44.4" cy="205.2" r="2.3" fill="#fff"/></g></g><g transform="translate(35.9 246.0) scale(0.8) translate(-35.9 -246.0)"><g stroke="#2a2e39" stroke-width="1.9" fill="none" stroke-linecap="round"><rect x="28.4" y="238.5" width="15" height="15"/><circle cx="28.4" cy="238.5" r="2.3" fill="#fff"/><circle cx="28.4" cy="253.5" r="2.3" fill="#fff"/><circle cx="43.4" cy="238.5" r="2.3" fill="#fff"/><circle cx="43.4" cy="253.5" r="2.3" fill="#fff"/></g></g><g transform="translate(35.9 279.6) scale(0.8) translate(-35.9 -279.6)"><g stroke="#2a2e39" stroke-width="1.9" fill="none" stroke-linecap="round"><path d="M27.9 271.5h16M27.9 276.90000000000003h11.5M27.9 282.3h16M32.4 287.70000000000005h11.5"/><circle cx="41.699999999999996" cy="276.90000000000003" r="2.3" fill="#fff"/><circle cx="29.7" cy="287.70000000000005" r="2.3" fill="#fff"/></g></g><g transform="translate(35.9 313.4) scale(0.8) translate(-35.9 -313.4)"><g stroke="#2a2e39" stroke-width="2" fill="none"><path d="M27.9 307.9v-3h16v3M35.9 304.9v17M31.9 321.9h8"/></g></g><path d="M51.6 157.0v4h-4z" fill="#2a2e39"/><path d="M51.9 191.2v4h-4z" fill="#2a2e39"/><path d="M51.8 225.3v4h-4z" fill="#2a2e39"/><path d="M51.7 260.1v4h-4z" fill="#2a2e39"/></svg></div>
<div id="tbl"><div style="position:absolute;left:0;top:0;width:360.6px;height:31px;background:#ebf5fe;border-radius:8px 8px 0 0"></div><div class="th" style="left:16.0px;width:60px;letter-spacing:0">Symbol</div><div class="th" style="left:103px;width:80px;text-align:right">Price BID</div><div class="th" style="left:194px;width:80.6px;text-align:right">Price ASK</div><div class="th" style="left:284px;width:60.5px;text-align:right">Daily</div><div class="td" style="left:14.8px;top:42.5px">EURUSD</div><div class="bx" style="left:111.3px;top:40.2px;background:#d2eed3"></div><div class="bx" style="left:202.1px;top:40.2px;background:#d2eed3"></div><div class="td" style="left:114.9px;top:42.5px">1.07940</div><div class="td" style="left:205.9px;top:42.5px">1.07970</div><div style="position:absolute;left:287.6px;top:47.4px;width:0;height:0;border-left:4.8px solid transparent;border-right:4.8px solid transparent;border-top:5.2px solid #e53935"></div><div class="td" style="left:284px;width:61.2px;text-align:right;top:42.5px;color:#c8141f;-webkit-text-stroke:0.2px #c8141f;letter-spacing:0.4px">0.25%</div><div class="td" style="left:14.8px;top:82.7px">GBPUSD</div><div class="bx" style="left:111.3px;top:80.4px;background:#d2eed3"></div><div class="bx" style="left:202.1px;top:80.4px;background:#d2eed3"></div><div class="td" style="left:114.9px;top:82.7px">1.27827</div><div class="td" style="left:205.9px;top:82.7px">1.27857</div><div style="position:absolute;left:287.6px;top:87.6px;width:0;height:0;border-left:4.8px solid transparent;border-right:4.8px solid transparent;border-top:5.2px solid #e53935"></div><div class="td" style="left:284px;width:61.2px;text-align:right;top:82.7px;color:#c8141f;-webkit-text-stroke:0.2px #c8141f;letter-spacing:0.4px">0.54%</div><div class="td" style="left:14.8px;top:122.9px">USDJPY</div><div class="bx" style="left:111.3px;top:120.6px;background:#d2eed3"></div><div class="bx" style="left:202.1px;top:120.6px;background:#d2eed3"></div><div class="td" style="left:114.9px;top:122.9px">149.725</div><div class="td" style="left:205.9px;top:122.9px">149.755</div><div style="position:absolute;left:287.6px;top:127.8px;width:0;height:0;border-left:4.8px solid transparent;border-right:4.8px solid transparent;border-top:5.2px solid #e53935"></div><div class="td" style="left:284px;width:61.2px;text-align:right;top:122.9px;color:#c8141f;-webkit-text-stroke:0.2px #c8141f;letter-spacing:0.4px">0.15%</div><div class="td" style="left:14.8px;top:163.1px">AUDUSD</div><div class="bx" style="left:111.3px;top:160.8px;background:transparent"></div><div class="bx" style="left:202.1px;top:160.8px;background:transparent"></div><div class="td" style="left:114.9px;top:163.1px">0.65190</div><div class="td" style="left:205.9px;top:163.1px">0.65220</div><div style="position:absolute;left:287.6px;top:168.0px;width:0;height:0;border-left:4.8px solid transparent;border-right:4.8px solid transparent;border-top:5.2px solid #e53935"></div><div class="td" style="left:284px;width:61.2px;text-align:right;top:163.1px;color:#c8141f;-webkit-text-stroke:0.2px #c8141f;letter-spacing:0.4px">0.28%</div><div class="td" style="left:14.8px;top:203.3px">USDCAD</div><div class="bx" style="left:111.3px;top:201.0px;background:transparent"></div><div class="bx" style="left:202.1px;top:201.0px;background:transparent"></div><div class="td" style="left:114.9px;top:203.3px">1.38271</div><div class="td" style="left:205.9px;top:203.3px">1.38311</div><div style="position:absolute;left:287.6px;top:207.4px;width:0;height:0;border-left:4.8px solid transparent;border-right:4.8px solid transparent;border-bottom:5.2px solid #2ea043"></div><div class="td" style="left:284px;width:61.2px;text-align:right;top:203.3px;color:#1f9a37;-webkit-text-stroke:0.2px #1f9a37;letter-spacing:0.4px">0.18%</div><div class="td" style="left:14.8px;top:243.5px">USDCHF</div><div class="bx" style="left:111.3px;top:241.2px;background:transparent"></div><div class="bx" style="left:202.1px;top:241.2px;background:transparent"></div><div class="td" style="left:114.9px;top:243.5px">0.87643</div><div class="td" style="left:205.9px;top:243.5px">0.87683</div><div style="position:absolute;left:287.6px;top:248.4px;width:0;height:0;border-left:4.8px solid transparent;border-right:4.8px solid transparent;border-top:5.2px solid #e53935"></div><div class="td" style="left:284px;width:61.2px;text-align:right;top:243.5px;color:#c8141f;-webkit-text-stroke:0.2px #c8141f;letter-spacing:0.4px">0.11%</div><div class="td" style="left:14.8px;top:283.7px">EURJPY</div><div class="bx" style="left:111.3px;top:281.4px;background:transparent"></div><div class="bx" style="left:202.1px;top:281.4px;background:transparent"></div><div class="td" style="left:114.9px;top:283.7px">161.633</div><div class="td" style="left:205.9px;top:283.7px">161.673</div><div style="position:absolute;left:287.6px;top:288.6px;width:0;height:0;border-left:4.8px solid transparent;border-right:4.8px solid transparent;border-top:5.2px solid #e53935"></div><div class="td" style="left:284px;width:61.2px;text-align:right;top:283.7px;color:#c8141f;-webkit-text-stroke:0.2px #c8141f;letter-spacing:0.4px">0.21%</div><div class="td" style="left:14.8px;top:323.9px">EURGBP</div><div class="bx" style="left:111.3px;top:321.6px;background:#fbd9da"></div><div class="bx" style="left:202.1px;top:321.6px;background:transparent"></div><div class="td" style="left:114.9px;top:323.9px">0.84429</div><div class="td" style="left:205.9px;top:323.9px">0.84459</div><div style="position:absolute;left:287.6px;top:328.8px;width:0;height:0;border-left:4.8px solid transparent;border-right:4.8px solid transparent;border-top:5.2px solid #e53935"></div><div class="td" style="left:284px;width:61.2px;text-align:right;top:323.9px;color:#c8141f;-webkit-text-stroke:0.2px #c8141f;letter-spacing:0.4px">0.07%</div><div class="td" style="left:14.8px;top:364.1px">NZDUSD</div><div class="bx" style="left:111.3px;top:361.8px;background:transparent"></div><div class="bx" style="left:202.1px;top:361.8px;background:transparent"></div><div class="td" style="left:114.9px;top:364.1px">0.59453</div><div class="td" style="left:205.9px;top:364.1px">0.59483</div><div style="position:absolute;left:287.6px;top:369.0px;width:0;height:0;border-left:4.8px solid transparent;border-right:4.8px solid transparent;border-top:5.2px solid #e53935"></div><div class="td" style="left:284px;width:61.2px;text-align:right;top:364.1px;color:#c8141f;-webkit-text-stroke:0.2px #c8141f;letter-spacing:0.4px">0.33%</div><div class="td" style="left:14.8px;top:404.3px">GBPJPY</div><div class="bx" style="left:111.3px;top:402.0px;background:transparent"></div><div class="bx" style="left:202.1px;top:402.0px;background:transparent"></div><div class="td" style="left:114.9px;top:404.3px">191.383</div><div class="td" style="left:205.9px;top:404.3px">191.423</div><div style="position:absolute;left:287.6px;top:409.2px;width:0;height:0;border-left:4.8px solid transparent;border-right:4.8px solid transparent;border-top:5.2px solid #e53935"></div><div class="td" style="left:284px;width:61.2px;text-align:right;top:404.3px;color:#c8141f;-webkit-text-stroke:0.2px #c8141f;letter-spacing:0.4px">0.12%</div><div class="td" style="left:14.8px;top:444.5px">EURAUD</div><div class="bx" style="left:111.3px;top:442.2px;background:#d2eed3"></div><div class="bx" style="left:202.1px;top:442.2px;background:transparent"></div><div class="td" style="left:114.9px;top:444.5px">1.65522</div><div class="td" style="left:205.9px;top:444.5px">1.65552</div><div style="position:absolute;left:287.6px;top:448.6px;width:0;height:0;border-left:4.8px solid transparent;border-right:4.8px solid transparent;border-bottom:5.2px solid #2ea043"></div><div class="td" style="left:284px;width:61.2px;text-align:right;top:444.5px;color:#1f9a37;-webkit-text-stroke:0.2px #1f9a37;letter-spacing:0.4px">0.09%</div><div class="td" style="left:14.8px;top:484.7px">AUDCAD</div><div class="bx" style="left:111.3px;top:482.4px;background:transparent"></div><div class="bx" style="left:202.1px;top:482.4px;background:transparent"></div><div class="td" style="left:114.9px;top:484.7px">0.90110</div><div class="td" style="left:205.9px;top:484.7px">0.90140</div><div style="position:absolute;left:287.6px;top:489.6px;width:0;height:0;border-left:4.8px solid transparent;border-right:4.8px solid transparent;border-top:5.2px solid #e53935"></div><div class="td" style="left:284px;width:61.2px;text-align:right;top:484.7px;color:#c8141f;-webkit-text-stroke:0.2px #c8141f;letter-spacing:0.4px">0.14%</div></div>
<div id="mtx"><div class="mc" style="left:0.0px;top:0.0px;width:90.8px;height:50.0px;background:#f5f5f5"></div><div class="mc" style="left:90.8px;top:0.0px;width:90.8px;height:50.0px;background:#ffffff"><span class="fl"><svg width="16" height="16" viewBox="0 0 16 16"><circle cx="8" cy="8" r="8" fill="#1c3f94"/><circle cx="12.60" cy="8.00" r="0.62" fill="#f7d117"/><circle cx="11.98" cy="10.30" r="0.62" fill="#f7d117"/><circle cx="10.30" cy="11.98" r="0.62" fill="#f7d117"/><circle cx="8.00" cy="12.60" r="0.62" fill="#f7d117"/><circle cx="5.70" cy="11.98" r="0.62" fill="#f7d117"/><circle cx="4.02" cy="10.30" r="0.62" fill="#f7d117"/><circle cx="3.40" cy="8.00" r="0.62" fill="#f7d117"/><circle cx="4.02" cy="5.70" r="0.62" fill="#f7d117"/><circle cx="5.70" cy="4.02" r="0.62" fill="#f7d117"/><circle cx="8.00" cy="3.40" r="0.62" fill="#f7d117"/><circle cx="10.30" cy="4.02" r="0.62" fill="#f7d117"/><circle cx="11.98" cy="5.70" r="0.62" fill="#f7d117"/></svg></span><span>EUR</span></div><div class="mc" style="left:181.6px;top:0.0px;width:90.8px;height:50.0px;background:#ffffff"><span class="fl"><svg width="16" height="16" viewBox="0 0 16 16"><defs><clipPath id="cu2"><circle cx="8" cy="8" r="8"/></clipPath></defs><g clip-path="url(#cu2)"><rect x="0" y="0.00" width="16" height="1.78" fill="#e0323e"/><rect x="0" y="1.78" width="16" height="1.78" fill="#fff"/><rect x="0" y="3.56" width="16" height="1.78" fill="#e0323e"/><rect x="0" y="5.33" width="16" height="1.78" fill="#fff"/><rect x="0" y="7.11" width="16" height="1.78" fill="#e0323e"/><rect x="0" y="8.89" width="16" height="1.78" fill="#fff"/><rect x="0" y="10.67" width="16" height="1.78" fill="#e0323e"/><rect x="0" y="12.44" width="16" height="1.78" fill="#fff"/><rect x="0" y="14.22" width="16" height="1.78" fill="#e0323e"/><rect x="0" y="0" width="8" height="7.2" fill="#2d4596"/></g></svg></span><span>USD</span></div><div class="mc" style="left:272.4px;top:0.0px;width:90.8px;height:50.0px;background:#ffffff"><span class="fl"><svg width="16" height="16" viewBox="0 0 16 16"><defs><clipPath id="cg3"><circle cx="8" cy="8" r="8"/></clipPath></defs><g clip-path="url(#cg3)"><rect width="16" height="16" fill="#23337f"/><path d="M0 0L16 16M16 0L0 16" stroke="#fff" stroke-width="3.2"/><path d="M0 0L16 16M16 0L0 16" stroke="#d0242f" stroke-width="1.1"/><path d="M8 0V16M0 8H16" stroke="#fff" stroke-width="4.2"/><path d="M8 0V16M0 8H16" stroke="#d0242f" stroke-width="2.3"/></g></svg></span><span>GBP</span></div><div class="mc" style="left:363.2px;top:0.0px;width:90.8px;height:50.0px;background:#ffffff"><span class="fl"><svg width="16" height="16" viewBox="0 0 16 16"><circle cx="8" cy="8" r="7.5" fill="#fff" stroke="#e8eaf0" stroke-width="1"/><circle cx="8" cy="8" r="4.3" fill="#c8102e"/></svg></span><span>JPY</span></div><div class="mc" style="left:454.0px;top:0.0px;width:90.8px;height:50.0px;background:#ffffff"><span class="fl"><svg width="16" height="16" viewBox="0 0 16 16"><circle cx="8" cy="8" r="8" fill="#ee1c25"/><path d="M6.6 3.8h2.8v2.8h2.8v2.8H9.4v2.8H6.6V9.4H3.8V6.6h2.8z" fill="#fff"/></svg></span><span>CHF</span></div><div class="mc" style="left:0.0px;top:50.0px;width:90.8px;height:50.7px;background:#ffffff"><span class="fl"><svg width="16" height="16" viewBox="0 0 16 16"><circle cx="8" cy="8" r="8" fill="#1c3f94"/><circle cx="12.60" cy="8.00" r="0.62" fill="#f7d117"/><circle cx="11.98" cy="10.30" r="0.62" fill="#f7d117"/><circle cx="10.30" cy="11.98" r="0.62" fill="#f7d117"/><circle cx="8.00" cy="12.60" r="0.62" fill="#f7d117"/><circle cx="5.70" cy="11.98" r="0.62" fill="#f7d117"/><circle cx="4.02" cy="10.30" r="0.62" fill="#f7d117"/><circle cx="3.40" cy="8.00" r="0.62" fill="#f7d117"/><circle cx="4.02" cy="5.70" r="0.62" fill="#f7d117"/><circle cx="5.70" cy="4.02" r="0.62" fill="#f7d117"/><circle cx="8.00" cy="3.40" r="0.62" fill="#f7d117"/><circle cx="10.30" cy="4.02" r="0.62" fill="#f7d117"/><circle cx="11.98" cy="5.70" r="0.62" fill="#f7d117"/></svg></span><span>EUR</span></div><div class="mc" style="left:90.8px;top:50.0px;width:90.8px;height:50.7px;background:#f5f5f5"></div><div class="mc" style="left:181.6px;top:50.0px;width:90.8px;height:50.7px;background:#d3eed3">1.07820</div><div class="mc" style="left:272.4px;top:50.0px;width:90.8px;height:50.7px;background:#ffffff">0.84365</div><div class="mc" style="left:363.2px;top:50.0px;width:90.8px;height:50.7px;background:#fdd6da">161.283</div><div class="mc" style="left:454.0px;top:50.0px;width:90.8px;height:50.7px;background:#d3eed3">0.94444</div><div class="mc" style="left:0.0px;top:100.7px;width:90.8px;height:50.7px;background:#ffffff"><span class="fl"><svg width="16" height="16" viewBox="0 0 16 16"><defs><clipPath id="cu7"><circle cx="8" cy="8" r="8"/></clipPath></defs><g clip-path="url(#cu7)"><rect x="0" y="0.00" width="16" height="1.78" fill="#e0323e"/><rect x="0" y="1.78" width="16" height="1.78" fill="#fff"/><rect x="0" y="3.56" width="16" height="1.78" fill="#e0323e"/><rect x="0" y="5.33" width="16" height="1.78" fill="#fff"/><rect x="0" y="7.11" width="16" height="1.78" fill="#e0323e"/><rect x="0" y="8.89" width="16" height="1.78" fill="#fff"/><rect x="0" y="10.67" width="16" height="1.78" fill="#e0323e"/><rect x="0" y="12.44" width="16" height="1.78" fill="#fff"/><rect x="0" y="14.22" width="16" height="1.78" fill="#e0323e"/><rect x="0" y="0" width="8" height="7.2" fill="#2d4596"/></g></svg></span><span>USD</span></div><div class="mc" style="left:90.8px;top:100.7px;width:90.8px;height:50.7px;background:#fdd6da">0.92747</div><div class="mc" style="left:181.6px;top:100.7px;width:90.8px;height:50.7px;background:#f5f5f5"></div><div class="mc" style="left:272.4px;top:100.7px;width:90.8px;height:50.7px;background:#d3eed3">0.78245</div><div class="mc" style="left:363.2px;top:100.7px;width:90.8px;height:50.7px;background:#ffffff">149.597</div><div class="mc" style="left:454.0px;top:100.7px;width:90.8px;height:50.7px;background:#d3eed3">0.87594</div><div class="mc" style="left:0.0px;top:151.4px;width:90.8px;height:50.7px;background:#ffffff"><span class="fl"><svg width="16" height="16" viewBox="0 0 16 16"><defs><clipPath id="cg8"><circle cx="8" cy="8" r="8"/></clipPath></defs><g clip-path="url(#cg8)"><rect width="16" height="16" fill="#23337f"/><path d="M0 0L16 16M16 0L0 16" stroke="#fff" stroke-width="3.2"/><path d="M0 0L16 16M16 0L0 16" stroke="#d0242f" stroke-width="1.1"/><path d="M8 0V16M0 8H16" stroke="#fff" stroke-width="4.2"/><path d="M8 0V16M0 8H16" stroke="#d0242f" stroke-width="2.3"/></g></svg></span><span>GBP</span></div><div class="mc" style="left:90.8px;top:151.4px;width:90.8px;height:50.7px;background:#ffffff">1.18533</div><div class="mc" style="left:181.6px;top:151.4px;width:90.8px;height:50.7px;background:#fdd6da">1.27804</div><div class="mc" style="left:272.4px;top:151.4px;width:90.8px;height:50.7px;background:#f5f5f5"></div><div class="mc" style="left:363.2px;top:151.4px;width:90.8px;height:50.7px;background:#d3eed3">191.192</div><div class="mc" style="left:454.0px;top:151.4px;width:90.8px;height:50.7px;background:#d3eed3">1.11946</div><div class="mc" style="left:0.0px;top:202.1px;width:90.8px;height:50.7px;background:#ffffff"><span class="fl"><svg width="16" height="16" viewBox="0 0 16 16"><circle cx="8" cy="8" r="7.5" fill="#fff" stroke="#e8eaf0" stroke-width="1"/><circle cx="8" cy="8" r="4.3" fill="#c8102e"/></svg></span><span>JPY</span></div><div class="mc" style="left:90.8px;top:202.1px;width:90.8px;height:50.7px;background:#ffffff">0.006200</div><div class="mc" style="left:181.6px;top:202.1px;width:90.8px;height:50.7px;background:#ffffff">0.006685</div><div class="mc" style="left:272.4px;top:202.1px;width:90.8px;height:50.7px;background:#ffffff">0.005230</div><div class="mc" style="left:363.2px;top:202.1px;width:90.8px;height:50.7px;background:#f5f5f5"></div><div class="mc" style="left:454.0px;top:202.1px;width:90.8px;height:50.7px;background:#d3eed3">0.005856</div></div>
</body></html>
